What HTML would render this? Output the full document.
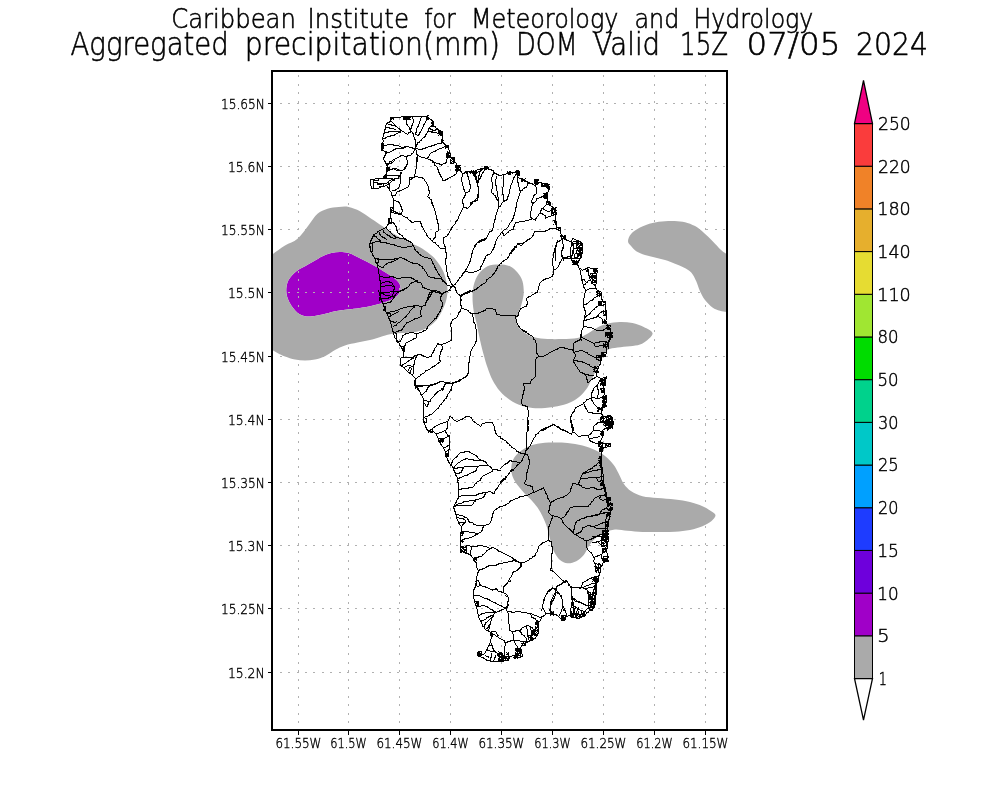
<!DOCTYPE html>
<html lang="en"><head><meta charset="utf-8"><title>Aggregated precipitation(mm) DOM</title>
<style>
html,body{margin:0;padding:0;background:#fff;}
body{width:1000px;height:800px;overflow:hidden;}
svg{display:block;}
text{font-family:"DejaVu Sans","Liberation Sans",sans-serif;font-weight:200;fill:#000;stroke:#000;}
.lon{font-size:14.7px;stroke-width:0.4px;}
.lat{font-size:14.7px;stroke-width:0.4px;}
.cb{font-size:17.2px;stroke-width:0.45px;}
.t1{font-size:27.4px;stroke-width:0.6px;}
.t2{font-size:32.2px;stroke-width:0.6px;}
</style></head><body>
<svg width="1000" height="800" viewBox="0 0 1000 800">
<rect width="1000" height="800" fill="#fff"/>

<defs><clipPath id="fr"><rect x="272" y="71" width="455" height="659"/></clipPath></defs>
<g clip-path="url(#fr)">
<path d="M286.25 290C286.3 287.7 286.7 284.8 287.5 282.5C288.3 280.2 289.6 278.2 291.25 276.25C292.9 274.2 295.2 272.2 297.5 270.5C299.8 268.8 302.3 267.8 305 266.25C307.7 264.7 310.8 262.9 313.75 261.25C316.7 259.6 319.6 257.6 322.5 256.25C325.4 254.9 328.3 253.7 331.25 253C334.2 252.3 337.1 252.0 340 252C342.9 252.0 345.8 252.2 348.75 253C351.7 253.8 354.4 255.5 357.5 257C360.6 258.5 364.2 260.2 367.5 262C370.8 263.8 374.2 265.5 377.5 267.5C380.8 269.5 384.6 271.9 387.5 273.75C390.4 275.6 393.0 277.1 395 278.75C397.0 280.4 398.6 282.1 399.5 283.75C400.4 285.4 400.6 287.1 400.5 288.75C400.4 290.4 399.7 292.3 398.75 293.75C397.8 295.2 396.7 296.3 395 297.5C393.3 298.7 391.2 299.7 388.75 300.75C386.2 301.8 383.1 302.8 380 303.75C376.9 304.7 373.3 305.5 370 306.25C366.7 307.0 363.8 307.5 360 308C356.2 308.5 351.7 309.0 347.5 309.5C343.3 310.0 339.2 310.4 335 311.25C330.8 312.1 326.2 313.7 322.5 314.5C318.8 315.3 315.4 316.0 312.5 316.25C309.6 316.5 307.3 316.7 305 316.25C302.7 315.8 300.6 315.0 298.75 313.75C296.9 312.5 295.3 310.6 293.75 308.75C292.2 306.9 290.6 304.6 289.5 302.5C288.4 300.4 287.5 298.3 287 296.25C286.5 294.2 286.2 292.3 286.25 290Z" fill="#a000c8"/>
<path d="M298.5 75V730M348.5 75V730M399.5 75V730M450.5 75V730M501.5 75V730M552.5 75V730M603.5 75V730M654.5 75V730M705.5 75V730" fill="none" stroke="#b0b0b0" stroke-width="1" stroke-dasharray="2 6.5" shape-rendering="crispEdges"/>
<path d="M280 103.5H727M280 166.5H727M280 229.5H727M280 292.5H727M280 356.5H727M280 419.5H727M280 482.5H727M280 545.5H727M280 608.5H727M280 672.5H727" fill="none" stroke="#b0b0b0" stroke-width="1" stroke-dasharray="2 6.36" shape-rendering="crispEdges"/>
<path d="M245 305C245.0 295.4 245.0 279.4 247.5 272.5C250.0 265.6 256.0 266.7 260 263.75C264.0 260.8 267.3 258.0 271.5 255C275.7 252.0 280.7 248.2 285 245.5C289.3 242.8 293.5 242.2 297.5 238.75C301.5 235.3 305.4 229.2 308.75 225C312.1 220.8 314.4 216.5 317.5 213.75C320.6 211.0 324.0 209.9 327.5 208.75C331.0 207.6 335.2 207.3 338.75 207C342.3 206.7 345.2 206.3 348.75 207C352.3 207.7 356.2 209.3 360 211.25C363.8 213.2 367.5 216.2 371.25 218.75C375.0 221.2 379.0 223.9 382.5 226.25C386.0 228.6 389.2 230.9 392.5 233C395.8 235.1 399.2 237.0 402.5 238.75C405.8 240.5 409.2 242.1 412.5 243.75C415.8 245.4 419.2 246.7 422.5 248.75C425.8 250.8 429.8 253.8 432.5 256.25C435.2 258.8 436.9 261.0 438.75 263.75C440.6 266.5 442.5 269.6 443.75 272.5C445.0 275.4 445.6 278.3 446.25 281.25C446.9 284.2 447.5 286.9 447.5 290C447.5 293.1 447.1 296.7 446.25 300C445.4 303.3 444.0 306.9 442.5 310C441.0 313.1 439.4 316.2 437.5 318.75C435.6 321.2 433.8 323.1 431.25 325C428.8 326.9 425.6 328.8 422.5 330C419.4 331.2 415.8 332.0 412.5 332.5C409.2 333.0 405.8 332.8 402.5 333C399.2 333.2 395.8 333.2 392.5 333.75C389.2 334.3 386.2 335.2 382.5 336.25C378.8 337.3 374.2 339.0 370 340C365.8 341.0 361.7 341.6 357.5 342.5C353.3 343.4 348.8 344.2 345 345.5C341.2 346.8 338.3 348.2 335 350C331.7 351.8 328.3 354.7 325 356.25C321.7 357.8 318.3 358.8 315 359.5C311.7 360.2 308.3 360.5 305 360.5C301.7 360.5 298.3 360.2 295 359.5C291.7 358.8 287.9 357.6 285 356.5C282.1 355.4 279.8 354.2 277.5 353C275.2 351.8 274.4 351.5 271.5 349.5C268.6 347.5 264.0 344.5 260 341.25C256.0 338.0 250.0 336.0 247.5 330C245.0 324.0 245.0 314.6 245 305ZM286.25 290C286.3 287.7 286.7 284.8 287.5 282.5C288.3 280.2 289.6 278.2 291.25 276.25C292.9 274.2 295.2 272.2 297.5 270.5C299.8 268.8 302.3 267.8 305 266.25C307.7 264.7 310.8 262.9 313.75 261.25C316.7 259.6 319.6 257.6 322.5 256.25C325.4 254.9 328.3 253.7 331.25 253C334.2 252.3 337.1 252.0 340 252C342.9 252.0 345.8 252.2 348.75 253C351.7 253.8 354.4 255.5 357.5 257C360.6 258.5 364.2 260.2 367.5 262C370.8 263.8 374.2 265.5 377.5 267.5C380.8 269.5 384.6 271.9 387.5 273.75C390.4 275.6 393.0 277.1 395 278.75C397.0 280.4 398.6 282.1 399.5 283.75C400.4 285.4 400.6 287.1 400.5 288.75C400.4 290.4 399.7 292.3 398.75 293.75C397.8 295.2 396.7 296.3 395 297.5C393.3 298.7 391.2 299.7 388.75 300.75C386.2 301.8 383.1 302.8 380 303.75C376.9 304.7 373.3 305.5 370 306.25C366.7 307.0 363.8 307.5 360 308C356.2 308.5 351.7 309.0 347.5 309.5C343.3 310.0 339.2 310.4 335 311.25C330.8 312.1 326.2 313.7 322.5 314.5C318.8 315.3 315.4 316.0 312.5 316.25C309.6 316.5 307.3 316.7 305 316.25C302.7 315.8 300.6 315.0 298.75 313.75C296.9 312.5 295.3 310.6 293.75 308.75C292.2 306.9 290.6 304.6 289.5 302.5C288.4 300.4 287.5 298.3 287 296.25C286.5 294.2 286.2 292.3 286.25 290Z" fill="#aaaaaa" fill-rule="evenodd"/>
<path d="M628 241.25C628.0 239.2 629.2 236.0 631.25 233.75C633.2 231.5 636.5 229.3 640 227.5C643.5 225.7 648.3 224.0 652.5 223C656.7 222.0 660.8 221.5 665 221.25C669.2 221.0 673.8 221.0 677.5 221.25C681.2 221.5 684.2 222.0 687.5 223C690.8 224.0 694.4 225.5 697.5 227.5C700.6 229.5 703.3 232.3 706.25 235C709.2 237.7 712.3 241.0 715 243.75C717.7 246.5 720.3 249.5 722.5 251.25C724.7 253.0 725.5 253.2 728 254.5C730.5 255.8 733.8 254.5 737.5 258.75C741.2 263.0 749.6 271.0 750 280C750.4 289.0 743.7 307.2 740 312.5C736.3 317.8 731.3 312.3 728 312C724.7 311.7 722.6 311.5 720 310.75C717.4 310.0 715.0 309.3 712.5 307.5C710.0 305.7 707.1 302.7 705 300C702.9 297.3 701.5 294.4 700 291.25C698.5 288.1 697.7 284.4 696.25 281.25C694.8 278.1 693.3 274.8 691.25 272.5C689.2 270.2 686.5 269.0 683.75 267.5C681.0 266.0 678.1 265.0 675 263.75C671.9 262.5 668.3 261.0 665 260C661.7 259.0 658.3 258.3 655 257.5C651.7 256.7 648.1 256.0 645 255C641.9 254.0 638.5 252.7 636.25 251.25C634.0 249.8 632.6 247.9 631.25 246.25C629.9 244.6 628.0 243.3 628 241.25Z" fill="#aaaaaa"/>
<path d="M472.5 297.5C472.5 293.1 472.7 289.0 473.75 285C474.8 281.0 476.5 276.9 478.75 273.75C481.0 270.6 484.2 267.8 487.5 266.25C490.8 264.7 495.0 264.5 498.75 264.5C502.5 264.5 506.9 264.9 510 266.25C513.1 267.6 515.4 270.0 517.5 272.5C519.6 275.0 521.5 277.9 522.5 281.25C523.5 284.6 523.8 289.0 523.75 292.5C523.7 296.0 522.8 299.2 522 302.5C521.2 305.8 519.7 309.6 518.75 312.5C517.8 315.4 516.2 317.5 516.25 320C516.2 322.5 517.1 325.2 518.75 327.5C520.4 329.8 523.5 332.1 526.25 333.75C529.0 335.4 531.5 336.6 535 337.5C538.5 338.4 542.9 338.8 547.5 339C552.1 339.2 557.5 339.2 562.5 339C567.5 338.8 573.3 338.9 577.5 338C581.7 337.1 584.2 335.5 587.5 333.75C590.8 332.0 594.2 329.2 597.5 327.5C600.8 325.8 603.8 324.7 607.5 323.75C611.2 322.8 615.8 322.1 620 322C624.2 321.9 628.5 322.2 632.5 323C636.5 323.8 640.4 325.3 643.75 327C647.1 328.7 651.9 330.8 652.5 333C653.1 335.2 649.6 338.1 647.5 340C645.4 341.9 642.9 343.5 640 344.5C637.1 345.5 633.8 345.8 630 346.25C626.2 346.8 621.2 346.9 617.5 347.5C613.8 348.1 610.0 348.3 607.5 350C605.0 351.7 604.2 354.6 602.5 357.5C600.8 360.4 599.2 364.2 597.5 367.5C595.8 370.8 594.2 374.2 592.5 377.5C590.8 380.8 589.6 384.4 587.5 387.5C585.4 390.6 582.9 393.8 580 396.25C577.1 398.8 573.8 400.8 570 402.5C566.2 404.2 561.7 405.3 557.5 406.25C553.3 407.2 549.2 407.7 545 408C540.8 408.3 536.5 408.4 532.5 408C528.5 407.6 525.0 406.8 521.25 405.5C517.5 404.2 513.5 402.4 510 400C506.5 397.6 502.9 394.6 500 391.25C497.1 387.9 494.6 384.0 492.5 380C490.4 376.0 489.0 371.7 487.5 367.5C486.0 363.3 485.0 359.6 483.75 355C482.5 350.4 481.1 345.0 480 340C478.9 335.0 478.0 329.8 477 325C476.0 320.2 474.5 315.8 473.75 311.25C473.0 306.7 472.5 301.9 472.5 297.5Z" fill="#aaaaaa"/>
<path d="M511.25 470C511.2 467.3 511.5 464.0 512.5 461.25C513.5 458.5 515.2 456.0 517.5 453.75C519.8 451.5 522.9 449.2 526.25 447.5C529.6 445.8 533.1 444.6 537.5 443.75C541.9 442.9 547.5 442.6 552.5 442.5C557.5 442.4 562.5 442.5 567.5 443C572.5 443.5 577.9 444.3 582.5 445.5C587.1 446.7 591.0 448.1 595 450C599.0 451.9 603.1 454.5 606.25 457C609.4 459.5 611.7 462.2 613.75 465C615.8 467.8 617.1 470.6 618.75 473.75C620.4 476.9 621.7 480.8 623.75 483.75C625.8 486.7 628.1 489.2 631.25 491.25C634.4 493.3 638.1 495.1 642.5 496.25C646.9 497.4 652.1 497.5 657.5 498C662.9 498.5 669.6 498.8 675 499.5C680.4 500.2 685.4 500.9 690 502C694.6 503.1 699.0 504.7 702.5 506.25C706.0 507.8 709.1 509.7 711.25 511.25C713.4 512.8 715.5 513.8 715.5 515.5C715.5 517.2 713.4 519.5 711.25 521.25C709.1 523.0 706.0 524.8 702.5 526.25C699.0 527.7 694.6 529.1 690 530C685.4 530.9 680.4 531.4 675 531.75C669.6 532.1 662.9 532.0 657.5 532C652.1 532.0 647.5 532.2 642.5 532C637.5 531.8 632.1 531.2 627.5 530.75C622.9 530.3 618.8 529.2 615 529.5C611.2 529.8 608.3 531.0 605 532.5C601.7 534.0 597.7 536.5 595 538.75C592.3 541.0 590.6 543.5 588.75 546.25C586.9 549.0 585.8 552.5 583.75 555C581.7 557.5 579.0 559.9 576.25 561.25C573.5 562.6 570.2 563.5 567.5 563.25C564.8 563.0 562.2 561.8 560 560C557.8 558.2 556.0 555.2 554.5 552.5C553.0 549.8 552.2 546.9 551.25 543.75C550.3 540.6 549.6 536.9 548.75 533.75C547.9 530.6 547.3 527.9 546.25 525C545.2 522.1 544.0 519.2 542.5 516.25C541.0 513.3 539.4 510.2 537.5 507.5C535.6 504.8 533.5 502.5 531.25 500C529.0 497.5 526.0 495.0 523.75 492.5C521.5 490.0 519.3 487.5 517.5 485C515.7 482.5 514.0 480.0 513 477.5C512.0 475.0 511.3 472.7 511.25 470Z" fill="#aaaaaa"/>
<path d="M369 243v5h1v-5zM370 179v7h1v-7zM370 240v4h1v-4zM370 246v6h1v-6zM371 186v3h1v-3zM371 238v3h1v-3zM372 236v3h1v-3zM372 242v10h1v-10zM372 253v3h1v-3zM373 179v10h1v-10zM373 234v3h1v-3zM374 234v3h1v-3zM375 258v5h1v-5zM377 182v3h1v-3zM377 262v6h1v-6zM378 178v3h1v-3zM378 258v5h1v-5zM378 268v6h1v-6zM379 232v3h1v-3zM379 239v3h1v-3zM379 274v7h1v-7zM379 292v4h1v-4zM379 297v4h1v-4zM380 240v3h1v-3zM380 280v20h1v-20zM381 143v8h1v-8zM381 298v4h1v-4zM382 137v3h1v-3zM382 142v9h1v-9zM382 301v3h1v-3zM383 133v4h1v-4zM383 143v6h1v-6zM383 157v3h1v-3zM383 176v3h1v-3zM383 183v4h1v-4zM383 230v3h1v-3zM383 292v3h1v-3zM383 303v4h1v-4zM384 129v5h1v-5zM384 155v3h1v-3zM384 175v4h1v-4zM384 306v5h1v-5zM385 125v5h1v-5zM385 151v5h1v-5zM385 161v3h1v-3zM385 174v5h1v-5zM385 306v6h1v-6zM386 151v3h1v-3zM386 163v3h1v-3zM386 167v12h1v-12zM386 226v3h1v-3zM387 163v9h1v-9zM387 312v4h1v-4zM388 167v4h1v-4zM388 181v4h1v-4zM388 218v7h1v-7zM388 316v3h1v-3zM389 161v3h1v-3zM389 167v4h1v-4zM389 183v8h1v-8zM389 218v6h1v-6zM389 318v3h1v-3zM390 117v5h1v-5zM390 207v12h1v-12zM390 313v4h1v-4zM390 320v4h1v-4zM391 117v3h1v-3zM391 161v3h1v-3zM391 192v4h1v-4zM391 209v4h1v-4zM391 218v6h1v-6zM391 324v4h1v-4zM392 178v3h1v-3zM392 195v3h1v-3zM392 294v3h1v-3zM392 328v4h1v-4zM393 117v3h1v-3zM393 198v15h1v-15zM393 289v5h1v-5zM393 296v3h1v-3zM393 331v4h1v-4zM394 178v3h1v-3zM394 258v3h1v-3zM394 286v4h1v-4zM394 295v3h1v-3zM394 335v3h1v-3zM395 211v3h1v-3zM395 236v3h1v-3zM396 226v5h1v-5zM396 333v9h1v-9zM397 230v3h1v-3zM397 340v3h1v-3zM398 175v4h1v-4zM399 184v3h1v-3zM399 343v3h1v-3zM400 129v4h1v-4zM400 172v12h1v-12zM400 204v3h1v-3zM400 358v8h1v-8zM401 206v4h1v-4zM401 212v3h1v-3zM401 346v3h1v-3zM402 209v3h1v-3zM402 335v3h1v-3zM402 348v3h1v-3zM402 364v3h1v-3zM403 116v4h1v-4zM403 346v12h1v-12zM404 116v4h1v-4zM404 167v3h1v-3zM404 345v7h1v-7zM405 116v4h1v-4zM405 166v3h1v-3zM405 343v3h1v-3zM406 116v9h1v-9zM406 156v4h1v-4zM406 164v3h1v-3zM407 116v4h1v-4zM407 160v5h1v-5zM408 116v4h1v-4zM409 116v4h1v-4zM409 127v3h1v-3zM409 177v8h1v-8zM410 128v5h1v-5zM410 370v4h1v-4zM411 125v4h1v-4zM411 177v3h1v-3zM411 357v3h1v-3zM412 116v3h1v-3zM412 123v3h1v-3zM412 243v3h1v-3zM413 119v4h1v-4zM413 133v4h1v-4zM413 305v3h1v-3zM413 356v3h1v-3zM413 364v10h1v-10zM414 137v3h1v-3zM414 148v3h1v-3zM414 174v4h1v-4zM414 247v3h1v-3zM414 305v3h1v-3zM414 360v5h1v-5zM414 380v6h1v-6zM415 132v3h1v-3zM415 139v11h1v-11zM415 169v5h1v-5zM415 357v3h1v-3zM415 378v11h1v-11zM416 128v5h1v-5zM416 144v3h1v-3zM416 150v5h1v-5zM416 157v12h1v-12zM416 333v5h1v-5zM416 355v3h1v-3zM416 385v3h1v-3zM417 142v3h1v-3zM417 154v8h1v-8zM417 280v3h1v-3zM417 385v5h1v-5zM418 124v3h1v-3zM418 388v3h1v-3zM419 121v3h1v-3zM419 132v3h1v-3zM420 118v3h1v-3zM420 221v3h1v-3zM420 310v5h1v-5zM420 392v3h1v-3zM421 223v4h1v-4zM421 306v4h1v-4zM422 266v3h1v-3zM422 285v3h1v-3zM423 124v3h1v-3zM423 398v25h1v-25zM424 421v4h1v-4zM425 134v3h1v-3zM425 302v4h1v-4zM425 425v3h1v-3zM426 116v5h1v-5zM426 233v3h1v-3zM426 300v3h1v-3zM426 389v3h1v-3zM426 418v5h1v-5zM426 427v3h1v-3zM427 115v5h1v-5zM427 297v4h1v-4zM427 326v3h1v-3zM427 387v3h1v-3zM427 404v3h1v-3zM428 117v3h1v-3zM428 128v4h1v-4zM428 186v5h1v-5zM428 294v6h1v-6zM428 385v3h1v-3zM428 401v4h1v-4zM428 430v3h1v-3zM429 190v4h1v-4zM429 292v3h1v-3zM430 294v3h1v-3zM430 399v3h1v-3zM430 429v4h1v-4zM431 199v5h1v-5zM431 290v5h1v-5zM431 354v3h1v-3zM432 120v7h1v-7zM432 129v4h1v-4zM432 160v3h1v-3zM432 202v4h1v-4zM432 261v3h1v-3zM432 290v3h1v-3zM432 428v5h1v-5zM433 121v6h1v-6zM433 205v3h1v-3zM433 350v3h1v-3zM434 162v4h1v-4zM434 208v3h1v-3zM434 265v3h1v-3zM434 348v3h1v-3zM435 211v4h1v-4zM435 232v6h1v-6zM435 267v3h1v-3zM435 290v3h1v-3zM436 215v5h1v-5zM436 316v3h1v-3zM436 433v3h1v-3zM437 167v3h1v-3zM437 219v5h1v-5zM437 314v3h1v-3zM438 129v5h1v-5zM438 169v4h1v-4zM438 223v8h1v-8zM438 438v4h1v-4zM439 130v5h1v-5zM439 172v3h1v-3zM439 291v3h1v-3zM439 355v6h1v-6zM439 440v3h1v-3zM440 130v6h1v-6zM440 174v3h1v-3zM440 296v5h1v-5zM440 309v3h1v-3zM440 351v4h1v-4zM440 438v7h1v-7zM441 131v5h1v-5zM441 139v5h1v-5zM441 277v3h1v-3zM441 293v4h1v-4zM441 306v3h1v-3zM441 349v3h1v-3zM441 438v4h1v-4zM442 131v12h1v-12zM442 178v3h1v-3zM442 279v3h1v-3zM442 302v5h1v-5zM442 346v4h1v-4zM442 388v3h1v-3zM442 438v5h1v-5zM443 237v7h1v-7zM443 386v4h1v-4zM443 438v4h1v-4zM444 244v3h1v-3zM444 384v3h1v-3zM445 144v5h1v-5zM445 246v7h1v-7zM445 258v7h1v-7zM445 382v3h1v-3zM445 430v3h1v-3zM445 451v6h1v-6zM446 145v3h1v-3zM446 153v5h1v-5zM446 159v4h1v-4zM446 252v7h1v-7zM446 265v7h1v-7zM446 396v3h1v-3zM446 453v5h1v-5zM447 145v3h1v-3zM447 151v8h1v-8zM447 272v5h1v-5zM447 394v3h1v-3zM447 421v8h1v-8zM447 434v3h1v-3zM447 453v4h1v-4zM447 458v3h1v-3zM448 145v5h1v-5zM448 152v6h1v-6zM448 276v3h1v-3zM448 449v8h1v-8zM448 460v3h1v-3zM449 150v4h1v-4zM449 155v3h1v-3zM449 278v3h1v-3zM449 416v3h1v-3zM449 435v15h1v-15zM450 153v5h1v-5zM450 159v5h1v-5zM450 286v3h1v-3zM450 323v4h1v-4zM451 227v3h1v-3zM451 321v3h1v-3zM451 327v14h1v-14zM451 386v5h1v-5zM451 462v4h1v-4zM452 157v3h1v-3zM452 284v3h1v-3zM452 382v4h1v-4zM452 460v3h1v-3zM453 157v7h1v-7zM453 467v4h1v-4zM453 506v3h1v-3zM454 157v6h1v-6zM454 466v3h1v-3zM454 470v3h1v-3zM454 504v3h1v-3zM454 508v4h1v-4zM455 165v3h1v-3zM455 221v3h1v-3zM455 287v4h1v-4zM455 472v4h1v-4zM455 511v4h1v-4zM456 163v11h1v-11zM456 290v3h1v-3zM456 500v3h1v-3zM456 514v5h1v-5zM457 165v7h1v-7zM457 477v6h1v-6zM458 165v6h1v-6zM458 216v3h1v-3zM458 312v3h1v-3zM458 482v17h1v-17zM458 521v3h1v-3zM459 165v3h1v-3zM459 379v3h1v-3zM459 522v3h1v-3zM460 167v5h1v-5zM460 295v11h1v-11zM460 309v3h1v-3zM460 532v21h1v-21zM461 177v5h1v-5zM461 294v3h1v-3zM461 305v4h1v-4zM461 470v3h1v-3zM461 526v8h1v-8zM461 549v4h1v-4zM462 173v4h1v-4zM462 182v4h1v-4zM462 199v5h1v-5zM462 273v3h1v-3zM462 467v4h1v-4zM462 531v5h1v-5zM462 539v4h1v-4zM462 546v3h1v-3zM463 186v4h1v-4zM463 203v5h1v-5zM463 522v3h1v-3zM463 531v3h1v-3zM463 546v4h1v-4zM464 189v3h1v-3zM464 195v3h1v-3zM464 549v4h1v-4zM465 192v4h1v-4zM465 269v3h1v-3zM465 520v3h1v-3zM466 171v3h1v-3zM466 545v9h1v-9zM467 171v6h1v-6zM467 291v3h1v-3zM467 373v3h1v-3zM468 176v4h1v-4zM468 362v12h1v-12zM468 519v3h1v-3zM469 180v5h1v-5zM469 189v3h1v-3zM469 261v3h1v-3zM469 290v3h1v-3zM469 356v7h1v-7zM470 171v3h1v-3zM470 184v5h1v-5zM470 202v4h1v-4zM470 258v4h1v-4zM470 351v5h1v-5zM470 550v6h1v-6zM471 170v3h1v-3zM471 202v3h1v-3zM471 253v5h1v-5zM471 546v4h1v-4zM472 171v3h1v-3zM472 201v3h1v-3zM472 250v4h1v-4zM472 313v4h1v-4zM473 170v6h1v-6zM473 317v6h1v-6zM473 558v3h1v-3zM473 589v10h1v-10zM474 171v6h1v-6zM474 245v3h1v-3zM474 557v5h1v-5zM474 587v3h1v-3zM474 599v4h1v-4zM475 170v10h1v-10zM475 199v3h1v-3zM475 244v3h1v-3zM475 324v5h1v-5zM475 341v3h1v-3zM475 499v3h1v-3zM475 533v3h1v-3zM475 557v3h1v-3zM475 583v5h1v-5zM475 603v3h1v-3zM476 170v4h1v-4zM476 176v7h1v-7zM476 329v13h1v-13zM476 468v3h1v-3zM476 557v4h1v-4zM476 562v6h1v-6zM476 576v10h1v-10zM476 601v3h1v-3zM476 605v4h1v-4zM477 180v7h1v-7zM477 194v7h1v-7zM477 572v4h1v-4zM477 601v6h1v-6zM477 609v5h1v-5zM477 652v4h1v-4zM478 175v8h1v-8zM478 186v12h1v-12zM478 570v3h1v-3zM478 601v6h1v-6zM478 614v4h1v-4zM478 651v6h1v-6zM479 171v5h1v-5zM479 240v3h1v-3zM479 582v4h1v-4zM479 651v6h1v-6zM480 168v4h1v-4zM480 176v3h1v-3zM480 266v4h1v-4zM480 478v3h1v-3zM480 653v4h1v-4zM481 168v3h1v-3zM481 174v3h1v-3zM481 239v3h1v-3zM481 620v4h1v-4zM481 651v5h1v-5zM482 527v4h1v-4zM482 624v3h1v-3zM483 260v3h1v-3zM483 525v3h1v-3zM484 166v5h1v-5zM484 238v3h1v-3zM484 258v3h1v-3zM484 494v3h1v-3zM484 624v5h1v-5zM485 166v4h1v-4zM485 256v3h1v-3zM485 492v3h1v-3zM485 622v3h1v-3zM486 166v4h1v-4zM486 279v3h1v-3zM487 166v3h1v-3zM487 647v4h1v-4zM488 167v3h1v-3zM488 625v3h1v-3zM488 629v3h1v-3zM489 624v5h1v-5zM489 643v3h1v-3zM490 621v4h1v-4zM490 632v4h1v-4zM490 639v4h1v-4zM490 657v5h1v-5zM491 177v5h1v-5zM491 189v4h1v-4zM491 517v4h1v-4zM491 617v4h1v-4zM491 631v8h1v-8zM491 643v3h1v-3zM491 653v5h1v-5zM492 174v3h1v-3zM492 182v7h1v-7zM492 228v3h1v-3zM492 469v3h1v-3zM492 513v5h1v-5zM492 615v3h1v-3zM492 633v4h1v-4zM492 645v4h1v-4zM493 170v5h1v-5zM493 223v5h1v-5zM493 247v3h1v-3zM493 511v3h1v-3zM493 610v3h1v-3zM493 614v3h1v-3zM493 648v4h1v-4zM494 219v4h1v-4zM494 244v4h1v-4zM494 426v5h1v-5zM494 491v3h1v-3zM494 611v3h1v-3zM494 657v3h1v-3zM495 179v7h1v-7zM495 195v3h1v-3zM495 215v5h1v-5zM495 241v4h1v-4zM495 309v3h1v-3zM495 430v4h1v-4zM495 655v3h1v-3zM496 176v3h1v-3zM496 185v6h1v-6zM496 197v3h1v-3zM496 212v3h1v-3zM496 268v3h1v-3zM496 312v3h1v-3zM497 191v6h1v-6zM497 209v3h1v-3zM497 266v3h1v-3zM497 634v3h1v-3zM497 653v3h1v-3zM498 197v12h1v-12zM498 653v4h1v-4zM498 658v4h1v-4zM499 652v10h1v-10zM500 436v3h1v-3zM500 481v3h1v-3zM500 652v3h1v-3zM500 659v3h1v-3zM501 480v3h1v-3zM501 652v10h1v-10zM502 187v8h1v-8zM502 231v3h1v-3zM502 479v3h1v-3zM502 653v9h1v-9zM503 174v13h1v-13zM503 194v8h1v-8zM503 233v3h1v-3zM503 478v3h1v-3zM503 586v7h1v-7zM503 655v7h1v-7zM504 640v3h1v-3zM504 646v13h1v-13zM505 476v4h1v-4zM505 642v4h1v-4zM505 656v5h1v-5zM506 606v5h1v-5zM506 656v3h1v-3zM507 171v3h1v-3zM507 196v4h1v-4zM507 601v7h1v-7zM507 658v3h1v-3zM508 172v3h1v-3zM508 194v3h1v-3zM508 597v5h1v-5zM508 613v11h1v-11zM508 652v9h1v-9zM509 171v4h1v-4zM509 189v5h1v-5zM509 253v3h1v-3zM509 624v7h1v-7zM509 656v3h1v-3zM510 171v4h1v-4zM510 185v4h1v-4zM511 250v4h1v-4zM511 469v3h1v-3zM512 180v3h1v-3zM512 218v3h1v-3zM512 249v3h1v-3zM512 572v3h1v-3zM512 631v3h1v-3zM513 177v3h1v-3zM513 215v4h1v-4zM513 226v4h1v-4zM513 248v3h1v-3zM513 558v3h1v-3zM513 634v7h1v-7zM514 212v4h1v-4zM514 224v3h1v-3zM514 246v4h1v-4zM514 640v3h1v-3zM514 655v4h1v-4zM515 207v5h1v-5zM515 315v4h1v-4zM515 559v3h1v-3zM515 648v3h1v-3zM515 652v7h1v-7zM516 170v5h1v-5zM516 202v6h1v-6zM516 245v3h1v-3zM516 319v4h1v-4zM516 648v4h1v-4zM516 653v5h1v-5zM517 170v13h1v-13zM517 199v3h1v-3zM517 646v13h1v-13zM518 170v6h1v-6zM518 182v5h1v-5zM518 196v3h1v-3zM518 312v4h1v-4zM518 648v4h1v-4zM518 653v3h1v-3zM519 171v5h1v-5zM519 187v4h1v-4zM519 193v3h1v-3zM519 648v6h1v-6zM520 190v3h1v-3zM520 562v6h1v-6zM520 629v4h1v-4zM520 647v11h1v-11zM521 178v4h1v-4zM521 399v5h1v-5zM521 562v5h1v-5zM521 632v3h1v-3zM521 649v5h1v-5zM522 178v4h1v-4zM522 394v5h1v-5zM522 458v3h1v-3zM522 643v3h1v-3zM522 654v3h1v-3zM523 383v3h1v-3zM523 390v5h1v-5zM523 641v3h1v-3zM524 179v3h1v-3zM524 386v5h1v-5zM524 453v3h1v-3zM524 643v3h1v-3zM525 450v5h1v-5zM525 641v5h1v-5zM526 298v3h1v-3zM526 304v3h1v-3zM526 432v19h1v-19zM526 472v8h1v-8zM526 625v4h1v-4zM526 638v5h1v-5zM527 181v5h1v-5zM527 301v4h1v-4zM527 406v4h1v-4zM527 417v15h1v-15zM527 469v4h1v-4zM527 629v8h1v-8zM528 410v7h1v-7zM528 420v5h1v-5zM528 426v5h1v-5zM528 456v4h1v-4zM528 465v4h1v-4zM528 635v5h1v-5zM529 459v6h1v-6zM530 211v7h1v-7zM530 381v3h1v-3zM530 626v4h1v-4zM530 635v6h1v-6zM531 200v3h1v-3zM531 206v5h1v-5zM531 217v3h1v-3zM531 615v3h1v-3zM531 630v11h1v-11zM532 202v4h1v-4zM532 486v4h1v-4zM532 630v6h1v-6zM532 637v4h1v-4zM533 195v3h1v-3zM533 233v3h1v-3zM533 337v3h1v-3zM533 490v3h1v-3zM533 629v6h1v-6zM534 179v5h1v-5zM534 629v7h1v-7zM535 179v8h1v-8zM535 218v3h1v-3zM535 340v3h1v-3zM535 359v18h1v-18zM535 434v3h1v-3zM535 553v3h1v-3zM535 622v3h1v-3zM535 626v6h1v-6zM535 633v3h1v-3zM536 179v6h1v-6zM536 187v7h1v-7zM536 198v3h1v-3zM536 343v11h1v-11zM536 620v5h1v-5zM536 634v3h1v-3zM537 179v6h1v-6zM537 290v3h1v-3zM537 549v3h1v-3zM537 620v8h1v-8zM537 629v3h1v-3zM537 633v3h1v-3zM538 286v4h1v-4zM538 546v3h1v-3zM538 621v13h1v-13zM539 283v3h1v-3zM540 210v4h1v-4zM541 182v5h1v-5zM541 208v3h1v-3zM541 616v3h1v-3zM542 183v4h1v-4zM542 604v5h1v-5zM543 195v3h1v-3zM543 207v3h1v-3zM543 428v3h1v-3zM543 599v5h1v-5zM544 183v4h1v-4zM544 193v6h1v-6zM544 597v4h1v-4zM545 183v4h1v-4zM545 193v6h1v-6zM545 215v4h1v-4zM545 427v3h1v-3zM545 491v3h1v-3zM545 612v3h1v-3zM546 183v5h1v-5zM546 192v7h1v-7zM546 201v4h1v-4zM547 183v6h1v-6zM547 192v11h1v-11zM547 495v4h1v-4zM547 591v3h1v-3zM548 184v8h1v-8zM548 201v4h1v-4zM548 510v3h1v-3zM548 526v15h1v-15zM549 186v4h1v-4zM549 201v5h1v-5zM549 505v6h1v-6zM549 524v3h1v-3zM549 589v3h1v-3zM550 202v4h1v-4zM550 502v4h1v-4zM550 521v3h1v-3zM550 568v3h1v-3zM550 601v15h1v-15zM551 208v8h1v-8zM551 518v3h1v-3zM551 541v6h1v-6zM551 553v16h1v-16zM551 599v6h1v-6zM551 611v4h1v-4zM552 206v8h1v-8zM552 258v8h1v-8zM552 274v3h1v-3zM552 515v4h1v-4zM552 546v8h1v-8zM552 612v3h1v-3zM553 207v3h1v-3zM553 212v4h1v-4zM553 252v6h1v-6zM553 266v9h1v-9zM553 598v3h1v-3zM553 611v5h1v-5zM554 208v5h1v-5zM554 220v3h1v-3zM554 248v5h1v-5zM554 596v3h1v-3zM555 207v18h1v-18zM555 245v16h1v-16zM555 588v8h1v-8zM556 212v3h1v-3zM556 221v9h1v-9zM556 242v5h1v-5zM556 586v5h1v-5zM557 240v3h1v-3zM557 591v3h1v-3zM558 227v4h1v-4zM559 262v3h1v-3zM560 227v7h1v-7zM561 234v6h1v-6zM561 250v7h1v-7zM561 595v4h1v-4zM561 609v3h1v-3zM561 615v6h1v-6zM562 238v6h1v-6zM562 247v4h1v-4zM562 255v4h1v-4zM562 520v3h1v-3zM562 599v10h1v-10zM562 615v6h1v-6zM563 236v3h1v-3zM563 244v5h1v-5zM563 257v4h1v-4zM563 580v3h1v-3zM563 615v6h1v-6zM564 235v5h1v-5zM564 608v3h1v-3zM564 617v4h1v-4zM565 235v5h1v-5zM565 580v3h1v-3zM565 610v3h1v-3zM565 615v5h1v-5zM566 512v3h1v-3zM566 613v4h1v-4zM567 256v3h1v-3zM568 583v3h1v-3zM570 247v12h1v-12zM570 416v7h1v-7zM570 488v4h1v-4zM570 608v9h1v-9zM571 240v7h1v-7zM571 255v6h1v-6zM571 414v3h1v-3zM571 420v8h1v-8zM571 486v3h1v-3zM571 586v14h1v-14zM571 602v6h1v-6zM571 611v7h1v-7zM572 242v4h1v-4zM572 250v6h1v-6zM572 260v3h1v-3zM572 424v9h1v-9zM572 483v3h1v-3zM572 596v10h1v-10zM572 613v5h1v-5zM573 243v11h1v-11zM573 260v5h1v-5zM573 343v10h1v-10zM573 359v4h1v-4zM573 427v4h1v-4zM573 529v5h1v-5zM573 602v16h1v-16zM574 254v5h1v-5zM574 260v5h1v-5zM574 409v3h1v-3zM574 525v5h1v-5zM574 598v3h1v-3zM574 608v7h1v-7zM575 261v4h1v-4zM575 354v3h1v-3zM575 522v3h1v-3zM575 606v3h1v-3zM575 613v5h1v-5zM576 240v9h1v-9zM576 250v4h1v-4zM576 260v5h1v-5zM576 533v3h1v-3zM576 611v8h1v-8zM577 240v6h1v-6zM577 247v4h1v-4zM577 253v6h1v-6zM577 261v5h1v-5zM577 608v3h1v-3zM577 613v3h1v-3zM578 240v5h1v-5zM578 246v3h1v-3zM578 253v4h1v-4zM578 260v3h1v-3zM578 265v3h1v-3zM578 482v3h1v-3zM578 607v3h1v-3zM578 611v4h1v-4zM579 245v11h1v-11zM579 258v3h1v-3zM579 480v3h1v-3zM579 614v5h1v-5zM580 241v5h1v-5zM580 247v12h1v-12zM580 270v5h1v-5zM580 334v6h1v-6zM580 477v3h1v-3zM580 614v4h1v-4zM581 242v4h1v-4zM581 247v4h1v-4zM581 252v6h1v-6zM581 275v6h1v-6zM581 330v8h1v-8zM581 585v3h1v-3zM581 610v5h1v-5zM582 243v11h1v-11zM582 279v5h1v-5zM582 527v3h1v-3zM582 582v3h1v-3zM582 613v4h1v-4zM583 284v4h1v-4zM583 298v10h1v-10zM583 320v8h1v-8zM583 611v6h1v-6zM584 293v5h1v-5zM584 307v4h1v-4zM584 315v6h1v-6zM584 404v3h1v-3zM584 611v6h1v-6zM585 289v4h1v-4zM585 310v5h1v-5zM585 406v3h1v-3zM585 471v3h1v-3zM586 376v4h1v-4zM586 540v8h1v-8zM587 267v5h1v-5zM587 379v4h1v-4zM587 590v4h1v-4zM588 269v7h1v-7zM588 435v3h1v-3zM588 591v18h1v-18zM589 275v4h1v-4zM589 438v3h1v-3zM589 594v6h1v-6zM589 607v4h1v-4zM590 592v8h1v-8zM590 601v7h1v-7zM591 275v4h1v-4zM591 281v3h1v-3zM591 392v9h1v-9zM591 596v12h1v-12zM592 273v11h1v-11zM592 390v3h1v-3zM592 592v13h1v-13zM592 606v5h1v-5zM593 268v4h1v-4zM593 275v3h1v-3zM593 388v3h1v-3zM593 426v5h1v-5zM593 536v3h1v-3zM593 577v4h1v-4zM593 589v7h1v-7zM593 601v8h1v-8zM594 268v6h1v-6zM594 275v4h1v-4zM594 280v3h1v-3zM594 343v3h1v-3zM594 366v6h1v-6zM594 557v3h1v-3zM594 576v6h1v-6zM594 585v5h1v-5zM594 595v13h1v-13zM595 268v6h1v-6zM595 275v4h1v-4zM595 280v3h1v-3zM595 284v5h1v-5zM595 366v3h1v-3zM595 563v9h1v-9zM595 576v29h1v-29zM596 268v4h1v-4zM596 273v11h1v-11zM596 355v5h1v-5zM596 370v7h1v-7zM596 566v3h1v-3zM596 570v3h1v-3zM596 576v19h1v-19zM597 270v3h1v-3zM597 290v7h1v-7zM597 368v5h1v-5zM597 384v6h1v-6zM597 395v4h1v-4zM597 567v4h1v-4zM597 578v5h1v-5zM598 301v5h1v-5zM598 314v3h1v-3zM598 355v3h1v-3zM598 366v3h1v-3zM598 389v6h1v-6zM598 407v5h1v-5zM598 441v6h1v-6zM598 563v10h1v-10zM598 575v7h1v-7zM599 291v6h1v-6zM599 301v5h1v-5zM599 355v3h1v-3zM599 407v3h1v-3zM599 441v6h1v-6zM599 448v4h1v-4zM599 456v3h1v-3zM599 460v4h1v-4zM599 534v3h1v-3zM599 572v4h1v-4zM600 293v3h1v-3zM600 301v5h1v-5zM600 355v10h1v-10zM600 378v4h1v-4zM600 383v3h1v-3zM600 417v6h1v-6zM600 440v5h1v-5zM600 446v6h1v-6zM600 456v12h1v-12zM600 483v3h1v-3zM600 495v3h1v-3zM600 511v3h1v-3zM600 564v9h1v-9zM601 292v8h1v-8zM601 301v5h1v-5zM601 352v9h1v-9zM601 378v7h1v-7zM601 388v5h1v-5zM601 407v8h1v-8zM601 416v4h1v-4zM601 431v5h1v-5zM601 445v36h1v-36zM601 482v4h1v-4zM601 536v11h1v-11zM601 554v5h1v-5zM602 299v3h1v-3zM602 319v5h1v-5zM602 352v5h1v-5zM602 378v8h1v-8zM602 390v3h1v-3zM602 396v3h1v-3zM602 400v3h1v-3zM602 404v7h1v-7zM602 414v5h1v-5zM602 420v3h1v-3zM602 430v8h1v-8zM602 442v10h1v-10zM602 467v7h1v-7zM602 480v6h1v-6zM602 530v11h1v-11zM602 548v6h1v-6zM602 558v3h1v-3zM602 563v3h1v-3zM603 310v4h1v-4zM603 343v5h1v-5zM603 352v5h1v-5zM603 382v11h1v-11zM603 395v13h1v-13zM603 416v7h1v-7zM603 431v5h1v-5zM603 474v15h1v-15zM603 530v11h1v-11zM603 542v5h1v-5zM603 548v5h1v-5zM603 556v7h1v-7zM604 319v5h1v-5zM604 344v3h1v-3zM604 354v3h1v-3zM604 377v9h1v-9zM604 388v7h1v-7zM604 396v12h1v-12zM604 421v3h1v-3zM604 484v8h1v-8zM604 533v5h1v-5zM604 539v3h1v-3zM604 558v5h1v-5zM605 301v15h1v-15zM605 320v4h1v-4zM605 332v5h1v-5zM605 341v7h1v-7zM605 354v3h1v-3zM605 377v9h1v-9zM605 395v5h1v-5zM605 401v6h1v-6zM605 420v7h1v-7zM605 443v5h1v-5zM605 487v10h1v-10zM605 519v24h1v-24zM605 547v5h1v-5zM605 558v4h1v-4zM606 310v10h1v-10zM606 321v3h1v-3zM606 332v4h1v-4zM606 346v8h1v-8zM606 376v3h1v-3zM606 395v8h1v-8zM606 416v10h1v-10zM606 443v3h1v-3zM606 492v11h1v-11zM606 514v5h1v-5zM606 524v3h1v-3zM606 530v17h1v-17zM606 548v5h1v-5zM606 558v4h1v-4zM607 324v6h1v-6zM607 332v6h1v-6zM607 342v5h1v-5zM607 415v3h1v-3zM607 419v7h1v-7zM607 427v4h1v-4zM607 497v10h1v-10zM607 512v5h1v-5zM607 521v19h1v-19zM607 541v8h1v-8zM607 553v9h1v-9zM608 325v5h1v-5zM608 332v4h1v-4zM608 340v9h1v-9zM608 415v15h1v-15zM608 443v4h1v-4zM608 497v10h1v-10zM608 512v4h1v-4zM608 519v8h1v-8zM608 536v6h1v-6zM609 327v3h1v-3zM609 332v10h1v-10zM609 418v11h1v-11zM609 497v4h1v-4zM609 503v3h1v-3zM609 508v3h1v-3zM609 512v8h1v-8zM610 328v12h1v-12zM610 415v5h1v-5zM610 421v8h1v-8zM610 443v4h1v-4zM610 497v4h1v-4zM610 502v3h1v-3zM610 506v9h1v-9zM611 332v6h1v-6zM611 416v12h1v-12zM611 503v3h1v-3zM611 507v4h1v-4zM612 335v3h1v-3zM612 417v12h1v-12zM612 503v3h1v-3zM612 507v3h1v-3zM613 421v4h1v-4zM428 115h1v1h-1zM401 116h2v1h-2zM410 116h2v1h-2zM413 116h13v1h-13zM392 117h1v1h-1zM394 117h7v1h-7zM410 117h1v1h-1zM421 117h1v1h-1zM392 118h1v1h-1zM429 118h1v1h-1zM410 119h1v1h-1zM430 119h2v1h-2zM431 120h1v1h-1zM389 121h1v1h-1zM391 121h1v1h-1zM425 121h1v1h-1zM387 122h3v1h-3zM392 122h1v1h-1zM425 122h1v1h-1zM431 122h1v1h-1zM386 123h2v1h-2zM393 123h1v1h-1zM424 123h1v1h-1zM431 123h1v1h-1zM386 124h1v1h-1zM388 124h4v1h-4zM394 124h1v1h-1zM407 124h1v1h-1zM424 124h1v1h-1zM391 125h5v1h-5zM407 125h1v1h-1zM431 125h1v1h-1zM395 126h2v1h-2zM408 126h1v1h-1zM417 126h1v1h-1zM430 126h2v1h-2zM434 126h2v1h-2zM386 127h4v1h-4zM397 127h1v1h-1zM417 127h1v1h-1zM422 127h1v1h-1zM429 127h1v1h-1zM435 127h1v1h-1zM389 128h5v1h-5zM398 128h2v1h-2zM422 128h1v1h-1zM429 128h2v1h-2zM436 128h2v1h-2zM394 129h2v1h-2zM399 129h1v1h-1zM421 129h1v1h-1zM430 129h2v1h-2zM435 129h3v1h-3zM401 130h1v1h-1zM421 130h1v1h-1zM433 130h3v1h-3zM388 131h12v1h-12zM402 131h2v1h-2zM411 131h1v1h-1zM420 131h1v1h-1zM427 131h1v1h-1zM429 131h3v1h-3zM385 132h4v1h-4zM398 132h2v1h-2zM404 132h1v1h-1zM408 132h2v1h-2zM412 132h1v1h-1zM420 132h1v1h-1zM427 132h1v1h-1zM431 132h1v1h-1zM433 132h4v1h-4zM396 133h2v1h-2zM405 133h2v1h-2zM408 133h1v1h-1zM412 133h1v1h-1zM426 133h1v1h-1zM437 133h1v1h-1zM394 134h2v1h-2zM407 134h1v1h-1zM416 134h1v1h-1zM418 134h1v1h-1zM426 134h1v1h-1zM390 135h5v1h-5zM417 135h2v1h-2zM438 135h1v1h-1zM387 136h4v1h-4zM424 136h1v1h-1zM385 137h2v1h-2zM423 137h2v1h-2zM383 138h3v1h-3zM422 138h1v1h-1zM421 139h1v1h-1zM383 140h1v1h-1zM420 140h2v1h-2zM443 140h1v1h-1zM383 141h1v1h-1zM419 141h1v1h-1zM418 142h2v1h-2zM443 142h1v1h-1zM437 143h4v1h-4zM443 143h2v1h-2zM387 144h7v1h-7zM434 144h3v1h-3zM444 144h1v1h-1zM384 145h3v1h-3zM393 145h6v1h-6zM431 145h4v1h-4zM399 146h2v1h-2zM404 146h5v1h-5zM428 146h4v1h-4zM444 146h1v1h-1zM401 147h5v1h-5zM409 147h4v1h-4zM425 147h3v1h-3zM442 147h2v1h-2zM395 148h9v1h-9zM412 148h2v1h-2zM416 148h2v1h-2zM422 148h4v1h-4zM439 148h3v1h-3zM393 149h3v1h-3zM418 149h5v1h-5zM437 149h2v1h-2zM383 150h1v1h-1zM392 150h2v1h-2zM435 150h2v1h-2zM384 151h1v1h-1zM390 151h2v1h-2zM413 151h1v1h-1zM433 151h3v1h-3zM387 152h3v1h-3zM413 152h1v1h-1zM431 152h2v1h-2zM411 153h2v1h-2zM430 153h1v1h-1zM411 154h1v1h-1zM429 154h1v1h-1zM400 155h4v1h-4zM407 155h4v1h-4zM418 155h1v1h-1zM429 155h1v1h-1zM399 156h2v1h-2zM404 156h2v1h-2zM407 156h1v1h-1zM419 156h2v1h-2zM428 156h1v1h-1zM397 157h2v1h-2zM421 157h4v1h-4zM427 157h2v1h-2zM451 157h1v1h-1zM395 158h2v1h-2zM425 158h3v1h-3zM451 158h1v1h-1zM393 159h2v1h-2zM428 159h3v1h-3zM384 160h1v1h-1zM392 160h1v1h-1zM394 160h1v1h-1zM430 160h2v1h-2zM451 160h1v1h-1zM384 161h1v1h-1zM390 161h1v1h-1zM393 161h1v1h-1zM433 161h1v1h-1zM452 161h1v1h-1zM392 162h1v1h-1zM433 162h1v1h-1zM435 162h1v1h-1zM445 162h1v1h-1zM451 162h1v1h-1zM455 162h1v1h-1zM388 163h1v1h-1zM390 163h1v1h-1zM436 163h4v1h-4zM443 163h3v1h-3zM451 163h2v1h-2zM388 164h1v1h-1zM439 164h4v1h-4zM435 165h1v1h-1zM441 165h1v1h-1zM460 165h1v1h-1zM436 166h1v1h-1zM392 168h5v1h-5zM482 168h2v1h-2zM390 169h3v1h-3zM394 169h2v1h-2zM397 169h2v1h-2zM403 169h1v1h-1zM455 169h1v1h-1zM459 169h1v1h-1zM477 169h3v1h-3zM482 169h1v1h-1zM489 169h3v1h-3zM396 170h7v1h-7zM455 170h1v1h-1zM459 170h1v1h-1zM491 170h2v1h-2zM461 171h1v1h-1zM465 171h1v1h-1zM468 171h2v1h-2zM478 171h1v1h-1zM483 171h1v1h-1zM515 171h1v1h-1zM401 172h1v1h-1zM461 172h1v1h-1zM464 172h2v1h-2zM469 172h1v1h-1zM477 172h1v1h-1zM482 172h2v1h-2zM494 172h1v1h-1zM511 172h5v1h-5zM401 173h1v1h-1zM463 173h2v1h-2zM482 173h1v1h-1zM494 173h3v1h-3zM506 173h1v1h-1zM512 173h1v1h-1zM454 174h2v1h-2zM496 174h3v1h-3zM502 174h1v1h-1zM504 174h2v1h-2zM515 174h1v1h-1zM387 175h11v1h-11zM399 175h1v1h-1zM453 175h2v1h-2zM498 175h4v1h-4zM515 175h1v1h-1zM399 176h1v1h-1zM415 176h3v1h-3zM441 176h1v1h-1zM451 176h2v1h-2zM514 176h1v1h-1zM410 177h1v1h-1zM412 177h2v1h-2zM418 177h5v1h-5zM441 177h1v1h-1zM449 177h2v1h-2zM514 177h1v1h-1zM518 177h1v1h-1zM375 178h3v1h-3zM379 178h4v1h-4zM387 178h5v1h-5zM395 178h3v1h-3zM412 178h1v1h-1zM422 178h2v1h-2zM447 178h2v1h-2zM479 178h1v1h-1zM519 178h2v1h-2zM525 178h1v1h-1zM371 179h2v1h-2zM374 179h1v1h-1zM391 179h1v1h-1zM393 179h1v1h-1zM410 179h1v1h-1zM424 179h1v1h-1zM445 179h3v1h-3zM479 179h1v1h-1zM523 179h1v1h-1zM538 179h1v1h-1zM374 180h4v1h-4zM389 180h2v1h-2zM393 180h1v1h-1zM424 180h1v1h-1zM443 180h3v1h-3zM523 180h1v1h-1zM525 180h1v1h-1zM538 180h1v1h-1zM391 181h1v1h-1zM425 181h1v1h-1zM525 181h2v1h-2zM374 182h3v1h-3zM387 182h1v1h-1zM390 182h1v1h-1zM426 182h1v1h-1zM528 182h2v1h-2zM538 182h3v1h-3zM378 183h5v1h-5zM384 183h3v1h-3zM426 183h1v1h-1zM511 183h1v1h-1zM528 183h5v1h-5zM538 183h1v1h-1zM543 183h1v1h-1zM378 184h4v1h-4zM387 184h1v1h-1zM427 184h1v1h-1zM511 184h1v1h-1zM532 184h2v1h-2zM549 184h1v1h-1zM385 185h2v1h-2zM408 185h1v1h-1zM427 185h1v1h-1zM534 185h1v1h-1zM543 185h1v1h-1zM379 186h4v1h-4zM384 186h1v1h-1zM387 186h1v1h-1zM408 186h1v1h-1zM526 186h1v1h-1zM543 186h1v1h-1zM379 187h2v1h-2zM387 187h2v1h-2zM398 187h1v1h-1zM406 187h2v1h-2zM524 187h3v1h-3zM372 188h1v1h-1zM374 188h5v1h-5zM388 188h1v1h-1zM397 188h2v1h-2zM404 188h2v1h-2zM523 188h2v1h-2zM395 189h2v1h-2zM402 189h2v1h-2zM522 189h1v1h-1zM392 190h4v1h-4zM399 190h3v1h-3zM521 190h2v1h-2zM390 191h1v1h-1zM397 191h3v1h-3zM468 191h1v1h-1zM396 192h1v1h-1zM466 192h2v1h-2zM396 193h1v1h-1zM492 193h2v1h-2zM543 193h1v1h-1zM395 194h1v1h-1zM428 194h1v1h-1zM493 194h1v1h-1zM534 194h2v1h-2zM393 195h3v1h-3zM428 195h1v1h-1zM494 195h1v1h-1zM534 195h1v1h-1zM427 196h1v1h-1zM541 196h2v1h-2zM428 197h2v1h-2zM463 197h1v1h-1zM539 197h3v1h-3zM429 198h1v1h-1zM463 198h1v1h-1zM476 198h1v1h-1zM532 198h1v1h-1zM537 198h2v1h-2zM430 199h1v1h-1zM497 199h1v1h-1zM506 199h1v1h-1zM532 199h1v1h-1zM394 200h2v1h-2zM474 200h1v1h-1zM476 200h1v1h-1zM497 200h1v1h-1zM504 200h3v1h-3zM396 201h3v1h-3zM473 201h2v1h-2zM504 201h1v1h-1zM535 201h1v1h-1zM398 202h2v1h-2zM502 202h1v1h-1zM533 202h2v1h-2zM399 203h1v1h-1zM501 203h1v1h-1zM533 203h1v1h-1zM501 204h1v1h-1zM547 204h1v1h-1zM500 205h1v1h-1zM545 205h1v1h-1zM469 206h1v1h-1zM499 206h2v1h-2zM544 206h1v1h-1zM551 206h1v1h-1zM391 207h2v1h-2zM464 207h3v1h-3zM468 207h1v1h-1zM556 207h1v1h-1zM392 208h1v1h-1zM462 208h1v1h-1zM466 208h2v1h-2zM542 208h1v1h-1zM462 209h1v1h-1zM544 209h1v1h-1zM392 210h1v1h-1zM461 210h1v1h-1zM545 210h2v1h-2zM550 210h1v1h-1zM556 210h1v1h-1zM394 211h1v1h-1zM461 211h1v1h-1zM547 211h3v1h-3zM392 212h1v1h-1zM396 212h2v1h-2zM460 212h1v1h-1zM394 213h1v1h-1zM396 213h5v1h-5zM460 213h1v1h-1zM539 213h1v1h-1zM541 213h2v1h-2zM398 214h3v1h-3zM459 214h1v1h-1zM538 214h1v1h-1zM542 214h2v1h-2zM554 214h1v1h-1zM402 215h1v1h-1zM459 215h1v1h-1zM538 215h1v1h-1zM544 215h1v1h-1zM552 215h1v1h-1zM403 216h2v1h-2zM537 216h1v1h-1zM548 216h3v1h-3zM405 217h3v1h-3zM536 217h1v1h-1zM546 217h2v1h-2zM407 218h1v1h-1zM532 218h1v1h-1zM536 218h1v1h-1zM408 219h1v1h-1zM457 219h1v1h-1zM529 219h2v1h-2zM533 219h2v1h-2zM409 220h2v1h-2zM456 220h2v1h-2zM511 220h1v1h-1zM525 220h4v1h-4zM553 220h1v1h-1zM410 221h2v1h-2zM414 221h6v1h-6zM456 221h1v1h-1zM511 221h1v1h-1zM519 221h6v1h-6zM390 222h1v1h-1zM392 222h2v1h-2zM411 222h3v1h-3zM510 222h1v1h-1zM515 222h4v1h-4zM390 223h1v1h-1zM393 223h2v1h-2zM509 223h1v1h-1zM515 223h1v1h-1zM387 224h1v1h-1zM394 224h1v1h-1zM454 224h1v1h-1zM509 224h1v1h-1zM553 224h1v1h-1zM387 225h1v1h-1zM395 225h1v1h-1zM453 225h1v1h-1zM508 225h1v1h-1zM395 226h1v1h-1zM422 226h1v1h-1zM452 226h1v1h-1zM508 226h1v1h-1zM385 227h1v1h-1zM422 227h1v1h-1zM452 227h1v1h-1zM507 227h1v1h-1zM557 227h1v1h-1zM559 227h1v1h-1zM383 228h2v1h-2zM423 228h1v1h-1zM506 228h1v1h-1zM549 228h7v1h-7zM559 228h1v1h-1zM381 229h2v1h-2zM387 229h1v1h-1zM423 229h1v1h-1zM450 229h1v1h-1zM504 229h2v1h-2zM511 229h2v1h-2zM548 229h2v1h-2zM557 229h1v1h-1zM379 230h2v1h-2zM388 230h1v1h-1zM424 230h1v1h-1zM450 230h1v1h-1zM491 230h1v1h-1zM503 230h1v1h-1zM509 230h2v1h-2zM545 230h3v1h-3zM559 230h1v1h-1zM377 231h2v1h-2zM389 231h2v1h-2zM424 231h1v1h-1zM436 231h2v1h-2zM449 231h1v1h-1zM489 231h3v1h-3zM508 231h1v1h-1zM534 231h12v1h-12zM377 232h1v1h-1zM384 232h1v1h-1zM390 232h1v1h-1zM425 232h1v1h-1zM449 232h1v1h-1zM489 232h1v1h-1zM501 232h1v1h-1zM507 232h2v1h-2zM534 232h1v1h-1zM375 233h2v1h-2zM385 233h1v1h-1zM391 233h1v1h-1zM398 233h2v1h-2zM448 233h1v1h-1zM488 233h1v1h-1zM500 233h1v1h-1zM506 233h1v1h-1zM380 234h1v1h-1zM386 234h2v1h-2zM392 234h1v1h-1zM399 234h2v1h-2zM447 234h2v1h-2zM488 234h1v1h-1zM500 234h1v1h-1zM505 234h1v1h-1zM380 235h1v1h-1zM387 235h3v1h-3zM393 235h2v1h-2zM401 235h2v1h-2zM427 235h1v1h-1zM447 235h1v1h-1zM487 235h1v1h-1zM499 235h1v1h-1zM504 235h1v1h-1zM532 235h1v1h-1zM560 235h1v1h-1zM562 235h1v1h-1zM375 236h2v1h-2zM381 236h2v1h-2zM389 236h2v1h-2zM394 236h1v1h-1zM402 236h1v1h-1zM427 236h1v1h-1zM445 236h2v1h-2zM487 236h1v1h-1zM498 236h1v1h-1zM532 236h1v1h-1zM560 236h1v1h-1zM562 236h1v1h-1zM376 237h1v1h-1zM382 237h3v1h-3zM390 237h3v1h-3zM396 237h3v1h-3zM403 237h1v1h-1zM428 237h1v1h-1zM434 237h1v1h-1zM444 237h1v1h-1zM486 237h1v1h-1zM497 237h1v1h-1zM531 237h1v1h-1zM377 238h1v1h-1zM384 238h2v1h-2zM393 238h2v1h-2zM399 238h7v1h-7zM429 238h2v1h-2zM433 238h2v1h-2zM485 238h2v1h-2zM497 238h1v1h-1zM529 238h2v1h-2zM572 238h2v1h-2zM378 239h1v1h-1zM386 239h1v1h-1zM404 239h3v1h-3zM430 239h1v1h-1zM433 239h1v1h-1zM482 239h2v1h-2zM485 239h1v1h-1zM496 239h1v1h-1zM527 239h3v1h-3zM566 239h1v1h-1zM572 239h1v1h-1zM574 239h2v1h-2zM406 240h3v1h-3zM431 240h2v1h-2zM480 240h1v1h-1zM482 240h2v1h-2zM496 240h1v1h-1zM526 240h2v1h-2zM559 240h2v1h-2zM566 240h3v1h-3zM375 241h4v1h-4zM408 241h3v1h-3zM432 241h1v1h-1zM478 241h1v1h-1zM480 241h1v1h-1zM525 241h2v1h-2zM558 241h2v1h-2zM569 241h2v1h-2zM573 241h3v1h-3zM579 241h1v1h-1zM373 242h2v1h-2zM381 242h6v1h-6zM410 242h2v1h-2zM433 242h3v1h-3zM477 242h2v1h-2zM523 242h2v1h-2zM371 243h1v1h-1zM386 243h4v1h-4zM435 243h1v1h-1zM476 243h1v1h-1zM517 243h7v1h-7zM574 243h2v1h-2zM579 243h1v1h-1zM390 244h5v1h-5zM436 244h1v1h-1zM476 244h1v1h-1zM517 244h3v1h-3zM522 244h1v1h-1zM394 245h3v1h-3zM413 245h1v1h-1zM437 245h2v1h-2zM520 245h2v1h-2zM397 246h4v1h-4zM407 246h5v1h-5zM413 246h1v1h-1zM438 246h1v1h-1zM515 246h1v1h-1zM401 247h6v1h-6zM439 247h1v1h-1zM515 247h1v1h-1zM440 248h5v1h-5zM473 248h1v1h-1zM574 248h2v1h-2zM415 249h1v1h-1zM473 249h1v1h-1zM492 249h1v1h-1zM415 250h1v1h-1zM492 250h1v1h-1zM578 250h1v1h-1zM371 251h1v1h-1zM416 251h2v1h-2zM491 251h1v1h-1zM578 251h1v1h-1zM371 252h1v1h-1zM417 252h2v1h-2zM491 252h1v1h-1zM510 252h1v1h-1zM418 253h1v1h-1zM490 253h1v1h-1zM510 253h1v1h-1zM575 253h1v1h-1zM419 254h2v1h-2zM487 254h3v1h-3zM373 255h1v1h-1zM420 255h2v1h-2zM486 255h2v1h-2zM373 256h1v1h-1zM422 256h2v1h-2zM508 256h1v1h-1zM568 256h2v1h-2zM374 257h1v1h-1zM399 257h3v1h-3zM424 257h4v1h-4zM507 257h2v1h-2zM564 257h3v1h-3zM575 257h2v1h-2zM374 258h1v1h-1zM376 258h2v1h-2zM395 258h4v1h-4zM402 258h3v1h-3zM428 258h3v1h-3zM507 258h1v1h-1zM564 258h3v1h-3zM568 258h2v1h-2zM572 258h2v1h-2zM575 258h2v1h-2zM578 258h1v1h-1zM377 259h1v1h-1zM379 259h15v1h-15zM396 259h2v1h-2zM404 259h3v1h-3zM431 259h1v1h-1zM505 259h2v1h-2zM561 259h1v1h-1zM395 260h1v1h-1zM406 260h2v1h-2zM431 260h1v1h-1zM503 260h2v1h-2zM561 260h1v1h-1zM391 261h3v1h-3zM408 261h2v1h-2zM502 261h2v1h-2zM560 261h1v1h-1zM376 262h1v1h-1zM388 262h4v1h-4zM410 262h3v1h-3zM501 262h1v1h-1zM560 262h1v1h-1zM376 263h1v1h-1zM386 263h2v1h-2zM412 263h6v1h-6zM433 263h1v1h-1zM482 263h1v1h-1zM500 263h2v1h-2zM385 264h2v1h-2zM418 264h2v1h-2zM433 264h1v1h-1zM468 264h1v1h-1zM482 264h1v1h-1zM499 264h1v1h-1zM572 264h1v1h-1zM378 265h1v1h-1zM384 265h1v1h-1zM419 265h2v1h-2zM468 265h1v1h-1zM481 265h1v1h-1zM498 265h2v1h-2zM558 265h1v1h-1zM379 266h2v1h-2zM383 266h1v1h-1zM421 266h1v1h-1zM467 266h1v1h-1zM481 266h1v1h-1zM558 266h1v1h-1zM381 267h3v1h-3zM467 267h1v1h-1zM557 267h1v1h-1zM588 267h2v1h-2zM423 268h1v1h-1zM466 268h1v1h-1zM556 268h1v1h-1zM579 268h2v1h-2zM585 268h2v1h-2zM590 268h3v1h-3zM597 268h1v1h-1zM424 269h1v1h-1zM436 269h1v1h-1zM466 269h1v1h-1zM479 269h1v1h-1zM554 269h2v1h-2zM579 269h1v1h-1zM581 269h1v1h-1zM583 269h3v1h-3zM424 270h1v1h-1zM436 270h1v1h-1zM477 270h2v1h-2zM495 270h1v1h-1zM582 270h1v1h-1zM586 270h1v1h-1zM425 271h1v1h-1zM437 271h1v1h-1zM464 271h1v1h-1zM466 271h2v1h-2zM474 271h3v1h-3zM495 271h1v1h-1zM586 271h1v1h-1zM426 272h1v1h-1zM437 272h1v1h-1zM463 272h2v1h-2zM468 272h6v1h-6zM494 272h1v1h-1zM426 273h1v1h-1zM438 273h1v1h-1zM463 273h1v1h-1zM493 273h2v1h-2zM590 273h2v1h-2zM593 273h1v1h-1zM427 274h1v1h-1zM438 274h2v1h-2zM492 274h2v1h-2zM590 274h1v1h-1zM427 275h1v1h-1zM439 275h1v1h-1zM461 275h1v1h-1zM492 275h1v1h-1zM380 276h3v1h-3zM389 276h5v1h-5zM428 276h2v1h-2zM440 276h1v1h-1zM461 276h1v1h-1zM491 276h1v1h-1zM551 276h1v1h-1zM590 276h1v1h-1zM383 277h7v1h-7zM393 277h3v1h-3zM401 277h11v1h-11zM430 277h5v1h-5zM459 277h2v1h-2zM489 277h2v1h-2zM549 277h2v1h-2zM590 277h1v1h-1zM396 278h5v1h-5zM411 278h3v1h-3zM434 278h7v1h-7zM459 278h1v1h-1zM488 278h1v1h-1zM545 278h4v1h-4zM413 279h2v1h-2zM458 279h1v1h-1zM487 279h1v1h-1zM543 279h3v1h-3zM583 279h2v1h-2zM590 279h1v1h-1zM593 279h1v1h-1zM415 280h2v1h-2zM443 280h1v1h-1zM457 280h2v1h-2zM542 280h2v1h-2zM584 280h1v1h-1zM588 280h3v1h-3zM593 280h1v1h-1zM385 281h5v1h-5zM414 281h3v1h-3zM443 281h2v1h-2zM450 281h1v1h-1zM457 281h1v1h-1zM541 281h1v1h-1zM585 281h1v1h-1zM587 281h1v1h-1zM382 282h3v1h-3zM389 282h3v1h-3zM411 282h3v1h-3zM418 282h3v1h-3zM444 282h2v1h-2zM450 282h1v1h-1zM456 282h1v1h-1zM485 282h1v1h-1zM540 282h1v1h-1zM586 282h2v1h-2zM593 282h1v1h-1zM381 283h1v1h-1zM392 283h1v1h-1zM410 283h2v1h-2zM421 283h1v1h-1zM445 283h2v1h-2zM451 283h1v1h-1zM455 283h1v1h-1zM483 283h2v1h-2zM585 283h1v1h-1zM392 284h1v1h-1zM409 284h1v1h-1zM421 284h1v1h-1zM446 284h1v1h-1zM451 284h1v1h-1zM454 284h2v1h-2zM481 284h2v1h-2zM584 284h2v1h-2zM593 284h2v1h-2zM385 285h7v1h-7zM393 285h1v1h-1zM409 285h1v1h-1zM447 285h3v1h-3zM453 285h1v1h-1zM480 285h2v1h-2zM594 285h1v1h-1zM381 286h4v1h-4zM392 286h2v1h-2zM408 286h1v1h-1zM451 286h1v1h-1zM453 286h2v1h-2zM479 286h1v1h-1zM406 287h2v1h-2zM423 287h2v1h-2zM451 287h1v1h-1zM454 287h1v1h-1zM477 287h2v1h-2zM584 287h1v1h-1zM404 288h3v1h-3zM424 288h3v1h-3zM476 288h2v1h-2zM584 288h1v1h-1zM589 288h6v1h-6zM596 288h1v1h-1zM402 289h3v1h-3zM427 289h3v1h-3zM449 289h1v1h-1zM474 289h3v1h-3zM587 289h2v1h-2zM596 289h1v1h-1zM378 290h1v1h-1zM400 290h4v1h-4zM430 290h1v1h-1zM433 290h2v1h-2zM436 290h1v1h-1zM448 290h3v1h-3zM470 290h1v1h-1zM472 290h3v1h-3zM586 290h1v1h-1zM598 290h1v1h-1zM378 291h1v1h-1zM390 291h3v1h-3zM394 291h7v1h-7zM433 291h2v1h-2zM437 291h2v1h-2zM445 291h3v1h-3zM468 291h1v1h-1zM470 291h3v1h-3zM596 291h1v1h-1zM598 291h1v1h-1zM600 291h1v1h-1zM381 292h2v1h-2zM384 292h6v1h-6zM397 292h2v1h-2zM430 292h1v1h-1zM436 292h3v1h-3zM440 292h1v1h-1zM443 292h3v1h-3zM465 292h2v1h-2zM468 292h1v1h-1zM535 292h2v1h-2zM596 292h1v1h-1zM381 293h2v1h-2zM396 293h1v1h-1zM440 293h1v1h-1zM442 293h2v1h-2zM457 293h1v1h-1zM463 293h4v1h-4zM534 293h2v1h-2zM598 293h1v1h-1zM384 294h1v1h-1zM395 294h1v1h-1zM442 294h1v1h-1zM458 294h2v1h-2zM462 294h3v1h-3zM532 294h2v1h-2zM596 294h1v1h-1zM385 295h5v1h-5zM395 295h1v1h-1zM459 295h1v1h-1zM462 295h1v1h-1zM531 295h1v1h-1zM598 295h1v1h-1zM390 296h2v1h-2zM429 296h1v1h-1zM528 296h3v1h-3zM596 296h1v1h-1zM388 297h3v1h-3zM429 297h1v1h-1zM527 297h2v1h-2zM594 297h2v1h-2zM382 298h7v1h-7zM593 298h1v1h-1zM392 299h1v1h-1zM461 299h1v1h-1zM592 299h2v1h-2zM391 300h1v1h-1zM441 300h1v1h-1zM461 300h1v1h-1zM590 300h3v1h-3zM390 301h2v1h-2zM441 301h1v1h-1zM589 301h1v1h-1zM603 301h2v1h-2zM387 302h4v1h-4zM588 302h1v1h-1zM603 302h2v1h-2zM384 303h3v1h-3zM586 303h2v1h-2zM584 304h3v1h-3zM603 304h2v1h-2zM415 305h4v1h-4zM423 305h2v1h-2zM602 305h2v1h-2zM407 306h6v1h-6zM419 306h2v1h-2zM422 306h1v1h-1zM524 306h2v1h-2zM596 306h2v1h-2zM403 307h4v1h-4zM522 307h2v1h-2zM595 307h2v1h-2zM400 308h3v1h-3zM412 308h1v1h-1zM462 308h2v1h-2zM486 308h7v1h-7zM520 308h2v1h-2zM594 308h1v1h-1zM383 309h1v1h-1zM398 309h2v1h-2zM411 309h1v1h-1zM464 309h3v1h-3zM485 309h1v1h-1zM493 309h2v1h-2zM520 309h1v1h-1zM593 309h2v1h-2zM383 310h1v1h-1zM395 310h3v1h-3zM410 310h1v1h-1zM467 310h2v1h-2zM483 310h3v1h-3zM519 310h1v1h-1zM592 310h1v1h-1zM390 311h5v1h-5zM398 311h1v1h-1zM409 311h1v1h-1zM439 311h1v1h-1zM459 311h1v1h-1zM468 311h1v1h-1zM481 311h3v1h-3zM519 311h1v1h-1zM591 311h1v1h-1zM601 311h2v1h-2zM604 311h1v1h-1zM386 312h1v1h-1zM388 312h2v1h-2zM396 312h2v1h-2zM409 312h1v1h-1zM439 312h1v1h-1zM459 312h1v1h-1zM469 312h2v1h-2zM478 312h3v1h-3zM590 312h1v1h-1zM600 312h2v1h-2zM386 313h1v1h-1zM388 313h2v1h-2zM394 313h2v1h-2zM408 313h1v1h-1zM438 313h1v1h-1zM470 313h2v1h-2zM473 313h6v1h-6zM589 313h2v1h-2zM599 313h1v1h-1zM392 314h2v1h-2zM407 314h1v1h-1zM438 314h1v1h-1zM497 314h3v1h-3zM588 314h2v1h-2zM604 314h1v1h-1zM391 315h1v1h-1zM406 315h1v1h-1zM421 315h1v1h-1zM457 315h1v1h-1zM500 315h15v1h-15zM517 315h1v1h-1zM586 315h2v1h-2zM597 315h1v1h-1zM603 315h2v1h-2zM389 316h1v1h-1zM405 316h2v1h-2zM420 316h2v1h-2zM457 316h1v1h-1zM516 316h2v1h-2zM585 316h2v1h-2zM596 316h2v1h-2zM404 317h2v1h-2zM418 317h2v1h-2zM456 317h1v1h-1zM585 317h1v1h-1zM593 317h4v1h-4zM599 317h2v1h-2zM403 318h1v1h-1zM414 318h4v1h-4zM434 318h2v1h-2zM454 318h2v1h-2zM590 318h4v1h-4zM601 318h1v1h-1zM402 319h1v1h-1zM413 319h2v1h-2zM434 319h1v1h-1zM452 319h2v1h-2zM586 319h4v1h-4zM401 320h1v1h-1zM411 320h2v1h-2zM433 320h1v1h-1zM452 320h1v1h-1zM585 320h2v1h-2zM391 321h3v1h-3zM396 321h1v1h-1zM400 321h1v1h-1zM409 321h2v1h-2zM432 321h1v1h-1zM603 321h1v1h-1zM393 322h3v1h-3zM398 322h2v1h-2zM406 322h3v1h-3zM431 322h1v1h-1zM474 322h1v1h-1zM603 322h1v1h-1zM397 323h1v1h-1zM406 323h1v1h-1zM430 323h1v1h-1zM474 323h1v1h-1zM517 323h1v1h-1zM396 324h1v1h-1zM405 324h1v1h-1zM429 324h1v1h-1zM517 324h1v1h-1zM394 325h3v1h-3zM404 325h1v1h-1zM428 325h1v1h-1zM518 325h1v1h-1zM606 325h1v1h-1zM609 325h2v1h-2zM393 326h1v1h-1zM403 326h2v1h-2zM518 326h2v1h-2zM584 326h3v1h-3zM610 326h1v1h-1zM403 327h1v1h-1zM519 327h1v1h-1zM587 327h5v1h-5zM606 327h1v1h-1zM402 328h1v1h-1zM426 328h1v1h-1zM520 328h1v1h-1zM582 328h1v1h-1zM592 328h2v1h-2zM605 328h2v1h-2zM401 329h2v1h-2zM426 329h1v1h-1zM521 329h2v1h-2zM582 329h1v1h-1zM594 329h2v1h-2zM603 329h2v1h-2zM398 330h4v1h-4zM423 330h3v1h-3zM522 330h3v1h-3zM596 330h8v1h-8zM396 331h3v1h-3zM422 331h2v1h-2zM523 331h4v1h-4zM394 332h2v1h-2zM409 332h5v1h-5zM419 332h3v1h-3zM525 332h2v1h-2zM612 332h1v1h-1zM395 333h1v1h-1zM405 333h4v1h-4zM414 333h2v1h-2zM417 333h2v1h-2zM527 333h2v1h-2zM612 333h1v1h-1zM404 334h2v1h-2zM528 334h2v1h-2zM403 335h1v1h-1zM530 335h2v1h-2zM532 336h1v1h-1zM582 337h1v1h-1zM608 337h1v1h-1zM395 338h1v1h-1zM401 338h1v1h-1zM413 338h3v1h-3zM583 338h2v1h-2zM401 339h1v1h-1zM412 339h2v1h-2zM534 339h1v1h-1zM579 339h1v1h-1zM581 339h1v1h-1zM585 339h2v1h-2zM400 340h1v1h-1zM410 340h2v1h-2zM450 340h1v1h-1zM577 340h3v1h-3zM581 340h1v1h-1zM587 340h2v1h-2zM398 341h3v1h-3zM408 341h2v1h-2zM448 341h2v1h-2zM575 341h3v1h-3zM589 341h2v1h-2zM599 341h6v1h-6zM606 341h1v1h-1zM398 342h1v1h-1zM406 342h2v1h-2zM446 342h2v1h-2zM574 342h2v1h-2zM591 342h2v1h-2zM595 342h5v1h-5zM606 342h1v1h-1zM437 343h2v1h-2zM443 343h3v1h-3zM593 343h1v1h-1zM437 344h6v1h-6zM474 344h1v1h-1zM606 344h1v1h-1zM400 345h1v1h-1zM436 345h1v1h-1zM441 345h1v1h-1zM474 345h1v1h-1zM599 345h4v1h-4zM400 346h1v1h-1zM402 346h1v1h-1zM436 346h1v1h-1zM473 346h1v1h-1zM595 346h4v1h-4zM435 347h1v1h-1zM472 347h1v1h-1zM559 347h6v1h-6zM472 348h1v1h-1zM557 348h2v1h-2zM564 348h4v1h-4zM471 349h1v1h-1zM555 349h3v1h-3zM568 349h5v1h-5zM471 350h1v1h-1zM553 350h2v1h-2zM572 350h1v1h-1zM579 350h4v1h-4zM551 351h2v1h-2zM575 351h4v1h-4zM583 351h2v1h-2zM432 352h1v1h-1zM549 352h2v1h-2zM574 352h1v1h-1zM585 352h3v1h-3zM604 352h2v1h-2zM432 353h1v1h-1zM537 353h1v1h-1zM548 353h1v1h-1zM574 353h1v1h-1zM587 353h1v1h-1zM417 354h5v1h-5zM537 354h1v1h-1zM546 354h2v1h-2zM588 354h2v1h-2zM414 355h2v1h-2zM417 355h1v1h-1zM421 355h3v1h-3zM538 355h1v1h-1zM544 355h2v1h-2zM590 355h2v1h-2zM597 355h1v1h-1zM414 356h1v1h-1zM423 356h3v1h-3zM429 356h2v1h-2zM538 356h6v1h-6zM592 356h2v1h-2zM401 357h2v1h-2zM404 357h7v1h-7zM412 357h1v1h-1zM426 357h3v1h-3zM536 357h2v1h-2zM574 357h1v1h-1zM594 357h2v1h-2zM597 357h1v1h-1zM412 358h1v1h-1zM536 358h1v1h-1zM574 358h1v1h-1zM410 359h1v1h-1zM597 359h2v1h-2zM408 360h2v1h-2zM440 360h1v1h-1zM574 360h4v1h-4zM598 360h2v1h-2zM407 361h2v1h-2zM440 361h1v1h-1zM577 361h6v1h-6zM406 362h1v1h-1zM438 362h2v1h-2zM574 362h1v1h-1zM582 362h3v1h-3zM404 363h2v1h-2zM437 363h2v1h-2zM574 363h1v1h-1zM585 363h2v1h-2zM403 364h1v1h-1zM436 364h1v1h-1zM575 364h1v1h-1zM587 364h3v1h-3zM599 364h1v1h-1zM401 365h1v1h-1zM407 365h4v1h-4zM434 365h2v1h-2zM575 365h1v1h-1zM589 365h1v1h-1zM599 365h1v1h-1zM401 366h1v1h-1zM405 366h2v1h-2zM411 366h2v1h-2zM432 366h3v1h-3zM576 366h1v1h-1zM590 366h2v1h-2zM597 366h1v1h-1zM403 367h2v1h-2zM409 367h2v1h-2zM431 367h2v1h-2zM577 367h1v1h-1zM592 367h2v1h-2zM596 367h1v1h-1zM404 368h1v1h-1zM409 368h1v1h-1zM411 368h1v1h-1zM430 368h1v1h-1zM577 368h1v1h-1zM596 368h1v1h-1zM405 369h1v1h-1zM408 369h1v1h-1zM411 369h1v1h-1zM428 369h2v1h-2zM578 369h1v1h-1zM593 369h1v1h-1zM406 370h1v1h-1zM408 370h1v1h-1zM425 370h3v1h-3zM579 370h1v1h-1zM407 371h1v1h-1zM425 371h1v1h-1zM579 371h1v1h-1zM593 371h1v1h-1zM595 371h1v1h-1zM598 371h1v1h-1zM408 372h2v1h-2zM424 372h1v1h-1zM580 372h3v1h-3zM595 372h1v1h-1zM598 372h1v1h-1zM409 373h1v1h-1zM422 373h2v1h-2zM582 373h3v1h-3zM411 374h2v1h-2zM420 374h2v1h-2zM584 374h5v1h-5zM412 375h1v1h-1zM420 375h1v1h-1zM466 375h1v1h-1zM585 375h1v1h-1zM588 375h6v1h-6zM413 376h1v1h-1zM418 376h2v1h-2zM465 376h2v1h-2zM597 376h1v1h-1zM414 377h1v1h-1zM417 377h1v1h-1zM463 377h3v1h-3zM534 377h1v1h-1zM594 377h2v1h-2zM598 377h2v1h-2zM603 377h1v1h-1zM416 378h1v1h-1zM462 378h2v1h-2zM533 378h1v1h-1zM592 378h3v1h-3zM460 379h2v1h-2zM531 379h2v1h-2zM591 379h2v1h-2zM603 379h1v1h-1zM458 380h1v1h-1zM460 380h1v1h-1zM531 380h1v1h-1zM590 380h1v1h-1zM599 380h1v1h-1zM603 380h1v1h-1zM439 381h5v1h-5zM455 381h4v1h-4zM589 381h1v1h-1zM599 381h1v1h-1zM437 382h3v1h-3zM444 382h1v1h-1zM446 382h4v1h-4zM453 382h4v1h-4zM588 382h1v1h-1zM598 382h1v1h-1zM434 383h4v1h-4zM446 383h6v1h-6zM453 383h1v1h-1zM524 383h6v1h-6zM598 383h1v1h-1zM430 384h6v1h-6zM418 385h10v1h-10zM429 385h4v1h-4zM596 385h1v1h-1zM418 386h5v1h-5zM429 386h1v1h-1zM595 386h2v1h-2zM594 387h1v1h-1zM441 388h1v1h-1zM600 388h1v1h-1zM602 388h1v1h-1zM441 389h1v1h-1zM450 389h1v1h-1zM600 389h1v1h-1zM419 390h1v1h-1zM439 390h2v1h-2zM450 390h1v1h-1zM419 391h1v1h-1zM425 391h1v1h-1zM437 391h2v1h-2zM449 391h1v1h-1zM424 392h1v1h-1zM436 392h2v1h-2zM449 392h1v1h-1zM423 393h1v1h-1zM435 393h2v1h-2zM448 393h1v1h-1zM421 394h2v1h-2zM434 394h2v1h-2zM421 395h1v1h-1zM434 395h1v1h-1zM422 396h1v1h-1zM433 396h1v1h-1zM422 397h1v1h-1zM432 397h1v1h-1zM592 397h3v1h-3zM600 397h2v1h-2zM431 398h1v1h-1zM445 398h1v1h-1zM589 398h2v1h-2zM595 398h2v1h-2zM598 398h2v1h-2zM444 399h1v1h-1zM586 399h3v1h-3zM424 400h3v1h-3zM443 400h2v1h-2zM586 400h1v1h-1zM592 400h1v1h-1zM427 401h1v1h-1zM429 401h1v1h-1zM443 401h1v1h-1zM585 401h1v1h-1zM592 401h1v1h-1zM442 402h1v1h-1zM583 402h2v1h-2zM593 402h1v1h-1zM424 403h1v1h-1zM441 403h1v1h-1zM583 403h1v1h-1zM593 403h1v1h-1zM425 404h1v1h-1zM440 404h2v1h-2zM522 404h1v1h-1zM581 404h2v1h-2zM594 404h1v1h-1zM425 405h1v1h-1zM439 405h1v1h-1zM522 405h4v1h-4zM579 405h2v1h-2zM595 405h1v1h-1zM606 405h1v1h-1zM426 406h1v1h-1zM439 406h1v1h-1zM525 406h2v1h-2zM577 406h2v1h-2zM596 406h1v1h-1zM606 406h1v1h-1zM438 407h1v1h-1zM575 407h2v1h-2zM597 407h1v1h-1zM437 408h2v1h-2zM575 408h1v1h-1zM586 408h1v1h-1zM597 408h1v1h-1zM600 408h1v1h-1zM436 409h1v1h-1zM586 409h1v1h-1zM600 409h1v1h-1zM435 410h1v1h-1zM587 410h1v1h-1zM597 410h1v1h-1zM434 411h1v1h-1zM573 411h1v1h-1zM587 411h1v1h-1zM597 411h1v1h-1zM433 412h1v1h-1zM572 412h2v1h-2zM588 412h5v1h-5zM432 413h1v1h-1zM572 413h1v1h-1zM592 413h9v1h-9zM429 414h3v1h-3zM428 415h2v1h-2zM609 415h1v1h-1zM425 416h3v1h-3zM450 416h1v1h-1zM465 416h5v1h-5zM604 416h2v1h-2zM609 416h1v1h-1zM424 417h1v1h-1zM451 417h2v1h-2zM464 417h2v1h-2zM470 417h2v1h-2zM605 417h1v1h-1zM425 418h1v1h-1zM452 418h1v1h-1zM462 418h2v1h-2zM471 418h1v1h-1zM604 418h1v1h-1zM448 419h1v1h-1zM453 419h1v1h-1zM460 419h3v1h-3zM472 419h1v1h-1zM448 420h1v1h-1zM454 420h2v1h-2zM458 420h2v1h-2zM472 420h1v1h-1zM446 421h1v1h-1zM456 421h2v1h-2zM473 421h2v1h-2zM601 421h1v1h-1zM425 422h1v1h-1zM443 422h3v1h-3zM474 422h2v1h-2zM485 422h8v1h-8zM597 422h3v1h-3zM601 422h1v1h-1zM440 423h3v1h-3zM476 423h1v1h-1zM482 423h3v1h-3zM492 423h1v1h-1zM596 423h2v1h-2zM438 424h2v1h-2zM477 424h2v1h-2zM481 424h1v1h-1zM493 424h1v1h-1zM552 424h3v1h-3zM595 424h2v1h-2zM603 424h1v1h-1zM436 425h2v1h-2zM479 425h1v1h-1zM481 425h1v1h-1zM493 425h1v1h-1zM550 425h3v1h-3zM554 425h2v1h-2zM594 425h1v1h-1zM604 425h1v1h-1zM434 426h2v1h-2zM480 426h1v1h-1zM548 426h3v1h-3zM556 426h3v1h-3zM433 427h2v1h-2zM546 427h3v1h-3zM557 427h3v1h-3zM606 427h1v1h-1zM446 428h1v1h-1zM544 428h1v1h-1zM546 428h1v1h-1zM559 428h2v1h-2zM604 428h3v1h-3zM427 429h1v1h-1zM431 429h1v1h-1zM446 429h1v1h-1zM541 429h2v1h-2zM544 429h1v1h-1zM560 429h4v1h-4zM603 429h2v1h-2zM427 430h1v1h-1zM429 430h1v1h-1zM444 430h1v1h-1zM540 430h3v1h-3zM562 430h4v1h-4zM594 430h6v1h-6zM429 431h1v1h-1zM431 431h1v1h-1zM433 431h1v1h-1zM442 431h2v1h-2zM539 431h1v1h-1zM565 431h3v1h-3zM592 431h1v1h-1zM600 431h1v1h-1zM431 432h1v1h-1zM434 432h1v1h-1zM439 432h3v1h-3zM446 432h1v1h-1zM538 432h1v1h-1zM567 432h2v1h-2zM573 432h2v1h-2zM591 432h1v1h-1zM435 433h1v1h-1zM437 433h2v1h-2zM446 433h1v1h-1zM496 433h1v1h-1zM537 433h2v1h-2zM569 433h3v1h-3zM575 433h1v1h-1zM590 433h2v1h-2zM600 433h1v1h-1zM496 434h1v1h-1zM536 434h1v1h-1zM571 434h1v1h-1zM576 434h1v1h-1zM589 434h2v1h-2zM600 434h1v1h-1zM448 435h1v1h-1zM497 435h1v1h-1zM577 435h1v1h-1zM581 435h7v1h-7zM437 436h1v1h-1zM448 436h1v1h-1zM498 436h2v1h-2zM578 436h3v1h-3zM598 436h2v1h-2zM437 437h1v1h-1zM445 437h2v1h-2zM534 437h1v1h-1zM593 437h5v1h-5zM439 438h1v1h-1zM444 438h1v1h-1zM501 438h2v1h-2zM533 438h1v1h-1zM590 438h3v1h-3zM601 438h1v1h-1zM502 439h2v1h-2zM533 439h1v1h-1zM601 439h1v1h-1zM504 440h2v1h-2zM532 440h1v1h-1zM590 440h1v1h-1zM506 441h1v1h-1zM532 441h1v1h-1zM590 441h3v1h-3zM506 442h2v1h-2zM531 442h1v1h-1zM592 442h3v1h-3zM601 442h1v1h-1zM507 443h2v1h-2zM531 443h1v1h-1zM595 443h3v1h-3zM601 443h1v1h-1zM603 443h2v1h-2zM607 443h1v1h-1zM609 443h1v1h-1zM441 444h1v1h-1zM509 444h1v1h-1zM530 444h1v1h-1zM609 444h1v1h-1zM441 445h1v1h-1zM447 445h2v1h-2zM509 445h2v1h-2zM530 445h1v1h-1zM607 445h1v1h-1zM442 446h1v1h-1zM446 446h2v1h-2zM511 446h1v1h-1zM529 446h1v1h-1zM607 446h1v1h-1zM609 446h1v1h-1zM443 447h3v1h-3zM511 447h2v1h-2zM528 447h1v1h-1zM603 447h2v1h-2zM606 447h1v1h-1zM443 448h1v1h-1zM513 448h2v1h-2zM527 448h2v1h-2zM603 448h1v1h-1zM444 449h1v1h-1zM515 449h1v1h-1zM527 449h1v1h-1zM444 450h1v1h-1zM447 450h1v1h-1zM516 450h1v1h-1zM446 451h1v1h-1zM464 451h6v1h-6zM516 451h3v1h-3zM460 452h5v1h-5zM469 452h2v1h-2zM518 452h3v1h-3zM459 453h1v1h-1zM471 453h2v1h-2zM520 453h4v1h-4zM458 454h1v1h-1zM473 454h2v1h-2zM526 454h2v1h-2zM457 455h1v1h-1zM475 455h2v1h-2zM527 455h1v1h-1zM456 456h2v1h-2zM476 456h2v1h-2zM523 456h1v1h-1zM455 457h2v1h-2zM477 457h1v1h-1zM523 457h1v1h-1zM454 458h1v1h-1zM465 458h3v1h-3zM478 458h1v1h-1zM598 458h1v1h-1zM453 459h1v1h-1zM463 459h3v1h-3zM468 459h6v1h-6zM479 459h2v1h-2zM461 460h2v1h-2zM473 460h11v1h-11zM509 460h3v1h-3zM521 460h1v1h-1zM598 460h1v1h-1zM460 461h1v1h-1zM483 461h3v1h-3zM508 461h2v1h-2zM511 461h6v1h-6zM521 461h1v1h-1zM449 462h1v1h-1zM458 462h2v1h-2zM485 462h2v1h-2zM507 462h2v1h-2zM517 462h4v1h-4zM598 462h1v1h-1zM449 463h1v1h-1zM457 463h1v1h-1zM486 463h1v1h-1zM505 463h3v1h-3zM519 463h1v1h-1zM597 463h1v1h-1zM450 464h1v1h-1zM456 464h1v1h-1zM487 464h1v1h-1zM504 464h2v1h-2zM517 464h2v1h-2zM596 464h1v1h-1zM450 465h1v1h-1zM455 465h1v1h-1zM479 465h10v1h-10zM503 465h1v1h-1zM516 465h2v1h-2zM594 465h3v1h-3zM599 465h1v1h-1zM452 466h1v1h-1zM464 466h15v1h-15zM489 466h2v1h-2zM502 466h1v1h-1zM516 466h1v1h-1zM593 466h2v1h-2zM452 467h1v1h-1zM457 467h5v1h-5zM463 467h1v1h-1zM477 467h1v1h-1zM490 467h2v1h-2zM501 467h1v1h-1zM515 467h1v1h-1zM592 467h1v1h-1zM455 468h3v1h-3zM463 468h1v1h-1zM491 468h1v1h-1zM500 468h1v1h-1zM514 468h1v1h-1zM590 468h3v1h-3zM493 469h5v1h-5zM512 469h2v1h-2zM588 469h3v1h-3zM597 469h4v1h-4zM475 470h1v1h-1zM497 470h4v1h-4zM510 470h1v1h-1zM512 470h2v1h-2zM587 470h1v1h-1zM592 470h6v1h-6zM473 471h3v1h-3zM491 471h1v1h-1zM510 471h1v1h-1zM586 471h1v1h-1zM589 471h3v1h-3zM459 472h2v1h-2zM471 472h3v1h-3zM489 472h2v1h-2zM509 472h1v1h-1zM583 472h2v1h-2zM586 472h3v1h-3zM456 473h4v1h-4zM469 473h2v1h-2zM487 473h2v1h-2zM508 473h2v1h-2zM582 473h3v1h-3zM467 474h2v1h-2zM485 474h2v1h-2zM508 474h1v1h-1zM582 474h1v1h-1zM456 475h1v1h-1zM464 475h4v1h-4zM483 475h2v1h-2zM507 475h1v1h-1zM581 475h1v1h-1zM456 476h1v1h-1zM462 476h2v1h-2zM482 476h1v1h-1zM506 476h1v1h-1zM581 476h1v1h-1zM600 476h1v1h-1zM602 476h1v1h-1zM459 477h3v1h-3zM481 477h1v1h-1zM506 477h1v1h-1zM588 477h12v1h-12zM458 478h2v1h-2zM481 478h1v1h-1zM504 478h1v1h-1zM581 478h7v1h-7zM596 478h1v1h-1zM504 479h1v1h-1zM597 479h1v1h-1zM458 480h1v1h-1zM479 480h1v1h-1zM525 480h1v1h-1zM597 480h1v1h-1zM600 480h1v1h-1zM477 481h2v1h-2zM525 481h1v1h-1zM598 481h3v1h-3zM476 482h1v1h-1zM524 482h1v1h-1zM475 483h2v1h-2zM524 483h1v1h-1zM573 483h3v1h-3zM474 484h1v1h-1zM499 484h1v1h-1zM525 484h2v1h-2zM576 484h2v1h-2zM579 484h1v1h-1zM474 485h1v1h-1zM498 485h1v1h-1zM527 485h4v1h-4zM579 485h3v1h-3zM473 486h1v1h-1zM498 486h1v1h-1zM530 486h2v1h-2zM581 486h1v1h-1zM468 487h5v1h-5zM497 487h1v1h-1zM543 487h1v1h-1zM582 487h3v1h-3zM590 487h5v1h-5zM461 488h8v1h-8zM496 488h2v1h-2zM541 488h3v1h-3zM585 488h5v1h-5zM594 488h3v1h-3zM601 488h2v1h-2zM459 489h3v1h-3zM495 489h2v1h-2zM539 489h3v1h-3zM544 489h1v1h-1zM596 489h6v1h-6zM495 490h1v1h-1zM537 490h2v1h-2zM544 490h1v1h-1zM488 491h3v1h-3zM535 491h2v1h-2zM482 492h3v1h-3zM486 492h2v1h-2zM491 492h2v1h-2zM532 492h1v1h-1zM534 492h1v1h-1zM569 492h1v1h-1zM478 493h5v1h-5zM492 493h2v1h-2zM530 493h2v1h-2zM546 493h1v1h-1zM568 493h1v1h-1zM476 494h3v1h-3zM528 494h2v1h-2zM546 494h1v1h-1zM567 494h1v1h-1zM604 494h1v1h-1zM461 495h16v1h-16zM524 495h4v1h-4zM565 495h2v1h-2zM599 495h1v1h-1zM601 495h4v1h-4zM459 496h2v1h-2zM483 496h1v1h-1zM519 496h5v1h-5zM563 496h2v1h-2zM597 496h2v1h-2zM482 497h2v1h-2zM518 497h2v1h-2zM560 497h4v1h-4zM595 497h2v1h-2zM599 497h1v1h-1zM457 498h1v1h-1zM479 498h3v1h-3zM515 498h3v1h-3zM548 498h1v1h-1zM557 498h3v1h-3zM594 498h1v1h-1zM599 498h1v1h-1zM457 499h1v1h-1zM476 499h3v1h-3zM513 499h2v1h-2zM548 499h1v1h-1zM555 499h2v1h-2zM593 499h1v1h-1zM600 499h2v1h-2zM604 499h2v1h-2zM469 500h6v1h-6zM510 500h3v1h-3zM549 500h1v1h-1zM553 500h2v1h-2zM593 500h1v1h-1zM602 500h2v1h-2zM463 501h6v1h-6zM474 501h1v1h-1zM509 501h2v1h-2zM549 501h1v1h-1zM551 501h3v1h-3zM591 501h2v1h-2zM455 502h1v1h-1zM462 502h2v1h-2zM473 502h1v1h-1zM509 502h1v1h-1zM551 502h1v1h-1zM591 502h1v1h-1zM455 503h1v1h-1zM458 503h4v1h-4zM473 503h1v1h-1zM507 503h2v1h-2zM590 503h1v1h-1zM456 504h2v1h-2zM472 504h1v1h-1zM505 504h2v1h-2zM589 504h2v1h-2zM455 505h17v1h-17zM503 505h3v1h-3zM588 505h1v1h-1zM455 506h1v1h-1zM499 506h4v1h-4zM573 506h16v1h-16zM498 507h2v1h-2zM570 507h3v1h-3zM606 507h1v1h-1zM496 508h2v1h-2zM569 508h1v1h-1zM604 508h4v1h-4zM495 509h2v1h-2zM569 509h1v1h-1zM602 509h3v1h-3zM607 509h2v1h-2zM494 510h1v1h-1zM568 510h1v1h-1zM601 510h1v1h-1zM608 510h1v1h-1zM567 511h2v1h-2zM601 511h1v1h-1zM567 512h1v1h-1zM603 512h4v1h-4zM549 513h1v1h-1zM599 513h1v1h-1zM601 513h4v1h-4zM457 514h2v1h-2zM550 514h1v1h-1zM565 514h1v1h-1zM595 514h5v1h-5zM459 515h4v1h-4zM551 515h1v1h-1zM553 515h1v1h-1zM565 515h1v1h-1zM591 515h7v1h-7zM463 516h2v1h-2zM554 516h4v1h-4zM564 516h1v1h-1zM586 516h7v1h-7zM610 516h1v1h-1zM457 517h2v1h-2zM464 517h3v1h-3zM558 517h2v1h-2zM562 517h2v1h-2zM584 517h3v1h-3zM459 518h5v1h-5zM467 518h1v1h-1zM560 518h2v1h-2zM581 518h4v1h-4zM457 519h1v1h-1zM463 519h2v1h-2zM467 519h1v1h-1zM561 519h1v1h-1zM579 519h2v1h-2zM457 520h1v1h-1zM577 520h3v1h-3zM469 521h1v1h-1zM490 521h1v1h-1zM576 521h1v1h-1zM606 521h1v1h-1zM460 522h3v1h-3zM464 522h1v1h-1zM469 522h4v1h-4zM490 522h1v1h-1zM563 522h1v1h-1zM576 522h1v1h-1zM602 522h3v1h-3zM606 522h1v1h-1zM464 523h1v1h-1zM473 523h1v1h-1zM489 523h1v1h-1zM563 523h1v1h-1zM600 523h3v1h-3zM462 524h1v1h-1zM473 524h3v1h-3zM486 524h3v1h-3zM564 524h1v1h-1zM598 524h2v1h-2zM460 525h1v1h-1zM462 525h1v1h-1zM476 525h7v1h-7zM484 525h2v1h-2zM565 525h1v1h-1zM587 525h4v1h-4zM595 525h3v1h-3zM566 526h1v1h-1zM585 526h2v1h-2zM590 526h5v1h-5zM567 527h1v1h-1zM583 527h2v1h-2zM594 527h2v1h-2zM568 528h2v1h-2zM596 528h9v1h-9zM606 528h1v1h-1zM569 529h2v1h-2zM481 530h1v1h-1zM570 530h2v1h-2zM581 530h1v1h-1zM604 530h1v1h-1zM608 530h1v1h-1zM464 531h5v1h-5zM481 531h1v1h-1zM571 531h2v1h-2zM580 531h2v1h-2zM604 531h1v1h-1zM608 531h1v1h-1zM469 532h6v1h-6zM479 532h2v1h-2zM572 532h1v1h-1zM578 532h3v1h-3zM476 533h3v1h-3zM577 533h2v1h-2zM608 533h1v1h-1zM476 534h2v1h-2zM574 534h2v1h-2zM600 534h2v1h-2zM608 534h1v1h-1zM461 535h1v1h-1zM474 535h1v1h-1zM577 535h1v1h-1zM597 535h2v1h-2zM472 536h2v1h-2zM578 536h1v1h-1zM592 536h1v1h-1zM594 536h5v1h-5zM600 536h1v1h-1zM469 537h3v1h-3zM579 537h2v1h-2zM594 537h2v1h-2zM464 538h5v1h-5zM581 538h3v1h-3zM591 538h2v1h-2zM463 539h2v1h-2zM583 539h1v1h-1zM589 539h3v1h-3zM461 540h1v1h-1zM547 540h1v1h-1zM549 540h1v1h-1zM584 540h2v1h-2zM587 540h2v1h-2zM600 540h1v1h-1zM461 541h1v1h-1zM463 541h1v1h-1zM545 541h2v1h-2zM549 541h2v1h-2zM596 541h4v1h-4zM542 542h3v1h-3zM592 542h5v1h-5zM598 542h1v1h-1zM602 542h1v1h-1zM541 543h2v1h-2zM599 543h1v1h-1zM602 543h1v1h-1zM604 543h1v1h-1zM540 544h2v1h-2zM600 544h1v1h-1zM467 545h3v1h-3zM477 545h6v1h-6zM539 545h1v1h-1zM602 545h1v1h-1zM604 545h2v1h-2zM461 546h1v1h-1zM465 546h1v1h-1zM470 546h1v1h-1zM472 546h6v1h-6zM483 546h4v1h-4zM602 546h1v1h-1zM604 546h1v1h-1zM461 547h1v1h-1zM464 547h2v1h-2zM487 547h2v1h-2zM491 547h3v1h-3zM489 548h3v1h-3zM494 548h2v1h-2zM587 548h1v1h-1zM604 548h1v1h-1zM465 549h1v1h-1zM488 549h2v1h-2zM496 549h2v1h-2zM587 549h1v1h-1zM604 549h1v1h-1zM462 550h1v1h-1zM465 550h1v1h-1zM486 550h2v1h-2zM497 550h2v1h-2zM588 550h1v1h-1zM462 551h2v1h-2zM486 551h1v1h-1zM498 551h3v1h-3zM589 551h1v1h-1zM604 551h1v1h-1zM463 552h1v1h-1zM465 552h1v1h-1zM485 552h1v1h-1zM501 552h2v1h-2zM536 552h1v1h-1zM590 552h2v1h-2zM604 552h1v1h-1zM465 553h1v1h-1zM467 553h2v1h-2zM484 553h1v1h-1zM503 553h2v1h-2zM591 553h1v1h-1zM468 554h2v1h-2zM482 554h2v1h-2zM505 554h2v1h-2zM592 554h1v1h-1zM600 554h1v1h-1zM471 555h1v1h-1zM482 555h1v1h-1zM507 555h2v1h-2zM534 555h1v1h-1zM592 555h1v1h-1zM597 555h3v1h-3zM471 556h1v1h-1zM478 556h4v1h-4zM509 556h2v1h-2zM532 556h3v1h-3zM593 556h1v1h-1zM595 556h3v1h-3zM604 556h3v1h-3zM608 556h1v1h-1zM472 557h1v1h-1zM477 557h2v1h-2zM511 557h2v1h-2zM532 557h1v1h-1zM593 557h1v1h-1zM608 557h1v1h-1zM512 558h1v1h-1zM529 558h3v1h-3zM514 559h1v1h-1zM529 559h1v1h-1zM512 560h1v1h-1zM514 560h1v1h-1zM516 560h1v1h-1zM527 560h2v1h-2zM593 560h1v1h-1zM608 560h1v1h-1zM475 561h1v1h-1zM508 561h5v1h-5zM516 561h3v1h-3zM525 561h2v1h-2zM593 561h1v1h-1zM608 561h1v1h-1zM475 562h1v1h-1zM503 562h5v1h-5zM518 562h2v1h-2zM522 562h3v1h-3zM594 562h1v1h-1zM498 563h5v1h-5zM594 563h1v1h-1zM596 563h1v1h-1zM599 563h1v1h-1zM496 564h3v1h-3zM597 564h1v1h-1zM599 564h1v1h-1zM488 565h9v1h-9zM601 565h1v1h-1zM486 566h3v1h-3zM594 566h1v1h-1zM601 566h1v1h-1zM485 567h2v1h-2zM519 567h1v1h-1zM599 567h1v1h-1zM477 568h1v1h-1zM482 568h3v1h-3zM518 568h2v1h-2zM599 568h1v1h-1zM477 569h1v1h-1zM479 569h4v1h-4zM517 569h2v1h-2zM479 570h1v1h-1zM516 570h2v1h-2zM551 570h2v1h-2zM513 571h3v1h-3zM552 571h2v1h-2zM513 572h1v1h-1zM554 572h1v1h-1zM555 573h1v1h-1zM556 574h1v1h-1zM511 575h1v1h-1zM557 575h1v1h-1zM511 576h1v1h-1zM558 576h1v1h-1zM597 576h1v1h-1zM510 577h1v1h-1zM559 577h1v1h-1zM591 577h2v1h-2zM509 578h1v1h-1zM560 578h1v1h-1zM589 578h3v1h-3zM509 579h1v1h-1zM561 579h1v1h-1zM587 579h2v1h-2zM592 579h1v1h-1zM477 580h2v1h-2zM508 580h1v1h-1zM510 580h1v1h-1zM562 580h1v1h-1zM566 580h1v1h-1zM586 580h2v1h-2zM475 581h1v1h-1zM478 581h1v1h-1zM508 581h3v1h-3zM564 581h1v1h-1zM566 581h2v1h-2zM584 581h2v1h-2zM592 581h1v1h-1zM507 582h1v1h-1zM562 582h1v1h-1zM564 582h1v1h-1zM567 582h1v1h-1zM583 582h1v1h-1zM506 583h2v1h-2zM561 583h2v1h-2zM591 583h4v1h-4zM480 584h1v1h-1zM505 584h2v1h-2zM559 584h3v1h-3zM569 584h1v1h-1zM589 584h2v1h-2zM480 585h2v1h-2zM504 585h2v1h-2zM557 585h3v1h-3zM569 585h1v1h-1zM586 585h3v1h-3zM477 586h2v1h-2zM482 586h4v1h-4zM504 586h1v1h-1zM557 586h1v1h-1zM570 586h1v1h-1zM584 586h2v1h-2zM593 586h1v1h-1zM485 587h3v1h-3zM552 587h1v1h-1zM570 587h1v1h-1zM572 587h9v1h-9zM582 587h2v1h-2zM588 587h5v1h-5zM488 588h2v1h-2zM495 588h2v1h-2zM551 588h4v1h-4zM579 588h2v1h-2zM583 588h5v1h-5zM490 589h8v1h-8zM550 589h2v1h-2zM554 589h1v1h-1zM585 589h2v1h-2zM492 590h1v1h-1zM497 590h1v1h-1zM548 590h1v1h-1zM550 590h1v1h-1zM498 591h4v1h-4zM548 591h1v1h-1zM501 592h2v1h-2zM556 592h1v1h-1zM558 592h1v1h-1zM589 592h1v1h-1zM594 592h1v1h-1zM504 593h2v1h-2zM546 593h1v1h-1zM554 593h1v1h-1zM558 593h2v1h-2zM594 593h1v1h-1zM506 594h1v1h-1zM546 594h1v1h-1zM554 594h1v1h-1zM559 594h1v1h-1zM591 594h1v1h-1zM474 595h6v1h-6zM505 595h1v1h-1zM507 595h1v1h-1zM545 595h1v1h-1zM553 595h1v1h-1zM560 595h1v1h-1zM480 596h2v1h-2zM506 596h2v1h-2zM545 596h1v1h-1zM553 596h1v1h-1zM560 596h1v1h-1zM482 597h2v1h-2zM552 597h1v1h-1zM484 598h4v1h-4zM552 598h1v1h-1zM573 598h1v1h-1zM593 598h1v1h-1zM487 599h3v1h-3zM573 599h1v1h-1zM575 599h1v1h-1zM593 599h1v1h-1zM489 600h2v1h-2zM552 600h1v1h-1zM576 600h1v1h-1zM475 601h1v1h-1zM491 601h2v1h-2zM552 601h1v1h-1zM575 601h5v1h-5zM493 602h3v1h-3zM578 602h4v1h-4zM589 602h1v1h-1zM495 603h2v1h-2zM581 603h3v1h-3zM497 604h2v1h-2zM508 604h1v1h-1zM583 604h3v1h-3zM481 605h4v1h-4zM499 605h3v1h-3zM508 605h1v1h-1zM585 605h3v1h-3zM589 605h1v1h-1zM479 606h2v1h-2zM485 606h3v1h-3zM501 606h2v1h-2zM563 606h1v1h-1zM574 606h1v1h-1zM487 607h2v1h-2zM503 607h3v1h-3zM563 607h1v1h-1zM572 607h1v1h-1zM576 607h1v1h-1zM489 608h1v1h-1zM504 608h2v1h-2zM543 608h1v1h-1zM587 608h1v1h-1zM490 609h3v1h-3zM501 609h3v1h-3zM541 609h1v1h-1zM543 609h1v1h-1zM549 609h1v1h-1zM563 609h1v1h-1zM579 609h1v1h-1zM586 609h1v1h-1zM590 609h2v1h-2zM492 610h1v1h-1zM499 610h3v1h-3zM541 610h1v1h-1zM544 610h1v1h-1zM549 610h1v1h-1zM563 610h1v1h-1zM580 610h1v1h-1zM582 610h1v1h-1zM585 610h1v1h-1zM590 610h2v1h-2zM495 611h1v1h-1zM497 611h3v1h-3zM507 611h5v1h-5zM515 611h6v1h-6zM544 611h1v1h-1zM585 611h1v1h-1zM588 611h1v1h-1zM485 612h8v1h-8zM495 612h2v1h-2zM507 612h1v1h-1zM511 612h4v1h-4zM521 612h6v1h-6zM560 612h1v1h-1zM586 612h3v1h-3zM481 613h4v1h-4zM527 613h5v1h-5zM546 613h4v1h-4zM560 613h1v1h-1zM586 613h1v1h-1zM480 614h2v1h-2zM530 614h1v1h-1zM532 614h2v1h-2zM554 614h3v1h-3zM559 614h1v1h-1zM585 614h1v1h-1zM479 615h1v1h-1zM490 615h2v1h-2zM534 615h3v1h-3zM543 615h2v1h-2zM556 615h2v1h-2zM559 615h1v1h-1zM564 615h1v1h-1zM568 615h2v1h-2zM585 615h1v1h-1zM488 616h3v1h-3zM537 616h2v1h-2zM542 616h2v1h-2zM558 616h1v1h-1zM567 616h1v1h-1zM578 616h1v1h-1zM581 616h1v1h-1zM486 617h3v1h-3zM532 617h2v1h-2zM539 617h2v1h-2zM559 617h1v1h-1zM574 617h1v1h-1zM577 617h1v1h-1zM581 617h1v1h-1zM479 618h1v1h-1zM486 618h1v1h-1zM490 618h1v1h-1zM533 618h3v1h-3zM560 618h1v1h-1zM577 618h2v1h-2zM479 619h1v1h-1zM484 619h2v1h-2zM489 619h1v1h-1zM535 619h1v1h-1zM540 619h1v1h-1zM480 620h1v1h-1zM482 620h2v1h-2zM488 620h1v1h-1zM540 620h1v1h-1zM480 621h1v1h-1zM487 621h1v1h-1zM539 621h1v1h-1zM486 622h1v1h-1zM527 625h2v1h-2zM483 626h1v1h-1zM524 626h2v1h-2zM529 626h1v1h-1zM487 627h1v1h-1zM522 627h2v1h-2zM531 627h2v1h-2zM536 627h1v1h-1zM486 628h2v1h-2zM521 628h1v1h-1zM532 628h1v1h-1zM536 628h1v1h-1zM485 629h1v1h-1zM521 629h1v1h-1zM486 630h2v1h-2zM510 630h1v1h-1zM515 630h5v1h-5zM536 630h1v1h-1zM489 631h1v1h-1zM492 631h4v1h-4zM511 631h1v1h-1zM513 631h3v1h-3zM519 631h1v1h-1zM496 632h1v1h-1zM536 632h1v1h-1zM496 633h1v1h-1zM493 634h2v1h-2zM522 634h1v1h-1zM495 635h1v1h-1zM498 635h1v1h-1zM523 635h2v1h-2zM529 635h1v1h-1zM496 636h1v1h-1zM524 636h1v1h-1zM498 637h1v1h-1zM525 637h1v1h-1zM529 637h1v1h-1zM535 637h1v1h-1zM499 638h2v1h-2zM533 638h3v1h-3zM501 639h2v1h-2zM533 639h1v1h-1zM503 640h1v1h-1zM510 640h3v1h-3zM515 640h5v1h-5zM529 640h1v1h-1zM507 641h4v1h-4zM520 641h3v1h-3zM524 641h1v1h-1zM527 641h3v1h-3zM506 642h2v1h-2zM527 642h1v1h-1zM515 643h1v1h-1zM521 643h1v1h-1zM515 644h1v1h-1zM488 645h1v1h-1zM490 645h1v1h-1zM516 645h1v1h-1zM521 645h1v1h-1zM523 645h1v1h-1zM488 646h1v1h-1zM521 646h1v1h-1zM486 649h1v1h-1zM486 650h1v1h-1zM488 650h2v1h-2zM494 650h1v1h-1zM480 651h1v1h-1zM485 651h1v1h-1zM490 651h3v1h-3zM494 651h2v1h-2zM498 651h1v1h-1zM485 652h1v1h-1zM495 652h2v1h-2zM506 652h1v1h-1zM484 653h1v1h-1zM507 653h1v1h-1zM482 654h2v1h-2zM506 654h2v1h-2zM485 655h1v1h-1zM512 655h2v1h-2zM519 655h1v1h-1zM486 656h3v1h-3zM500 656h1v1h-1zM507 656h1v1h-1zM510 656h2v1h-2zM521 656h1v1h-1zM481 657h3v1h-3zM488 657h1v1h-1zM500 657h1v1h-1zM513 657h1v1h-1zM518 657h2v1h-2zM483 658h2v1h-2zM485 659h2v1h-2zM486 660h4v1h-4zM493 660h1v1h-1zM504 660h1v1h-1zM506 660h1v1h-1zM491 661h7v1h-7z" fill="#000" shape-rendering="crispEdges"/>
</g>
<rect x="272" y="71" width="455" height="659" fill="none" stroke="#000" stroke-width="2" shape-rendering="crispEdges"/>
<path d="M298.5 731v4M348.5 731v4M399.5 731v4M450.5 731v4M501.5 731v4M552.5 731v4M603.5 731v4M654.5 731v4M705.5 731v4M271 103.5h-3M271 166.5h-3M271 229.5h-3M271 292.5h-3M271 356.5h-3M271 419.5h-3M271 482.5h-3M271 545.5h-3M271 608.5h-3M271 672.5h-3" fill="none" stroke="#000" stroke-width="1" shape-rendering="crispEdges"/>
<text class="lon" x="275.38" y="748.2" textLength="46.07" lengthAdjust="spacingAndGlyphs">61.55W</text>
<text class="lon" x="330.25" y="748.2" textLength="36.57" lengthAdjust="spacingAndGlyphs">61.5W</text>
<text class="lon" x="376.38" y="748.2" textLength="46.07" lengthAdjust="spacingAndGlyphs">61.45W</text>
<text class="lon" x="432.25" y="748.2" textLength="36.57" lengthAdjust="spacingAndGlyphs">61.4W</text>
<text class="lon" x="478.38" y="748.2" textLength="46.07" lengthAdjust="spacingAndGlyphs">61.35W</text>
<text class="lon" x="534.25" y="748.2" textLength="36.57" lengthAdjust="spacingAndGlyphs">61.3W</text>
<text class="lon" x="580.38" y="748.2" textLength="46.07" lengthAdjust="spacingAndGlyphs">61.25W</text>
<text class="lon" x="636.25" y="748.2" textLength="36.57" lengthAdjust="spacingAndGlyphs">61.2W</text>
<text class="lon" x="682.38" y="748.2" textLength="46.07" lengthAdjust="spacingAndGlyphs">61.15W</text>
<text class="lat" x="221.0" y="108.6" textLength="43.91" lengthAdjust="spacingAndGlyphs">15.65N</text>
<text class="lat" x="228.0" y="171.6" textLength="36.68" lengthAdjust="spacingAndGlyphs">15.6N</text>
<text class="lat" x="221.0" y="234.6" textLength="43.91" lengthAdjust="spacingAndGlyphs">15.55N</text>
<text class="lat" x="228.0" y="297.6" textLength="36.68" lengthAdjust="spacingAndGlyphs">15.5N</text>
<text class="lat" x="221.0" y="361.6" textLength="43.91" lengthAdjust="spacingAndGlyphs">15.45N</text>
<text class="lat" x="228.0" y="424.6" textLength="36.68" lengthAdjust="spacingAndGlyphs">15.4N</text>
<text class="lat" x="221.0" y="487.6" textLength="43.91" lengthAdjust="spacingAndGlyphs">15.35N</text>
<text class="lat" x="228.0" y="550.6" textLength="36.68" lengthAdjust="spacingAndGlyphs">15.3N</text>
<text class="lat" x="221.0" y="613.6" textLength="43.91" lengthAdjust="spacingAndGlyphs">15.25N</text>
<text class="lat" x="228.0" y="677.6" textLength="36.68" lengthAdjust="spacingAndGlyphs">15.2N</text>
<rect x="854.5" y="635.81" width="18.0" height="42.69" fill="#aaaaaa" stroke="#000" stroke-width="1"/>
<rect x="854.5" y="593.12" width="18.0" height="42.69" fill="#a000c8" stroke="#000" stroke-width="1"/>
<rect x="854.5" y="550.42" width="18.0" height="42.69" fill="#6e00dc" stroke="#000" stroke-width="1"/>
<rect x="854.5" y="507.73" width="18.0" height="42.69" fill="#1e3cff" stroke="#000" stroke-width="1"/>
<rect x="854.5" y="465.04" width="18.0" height="42.69" fill="#00a0ff" stroke="#000" stroke-width="1"/>
<rect x="854.5" y="422.35" width="18.0" height="42.69" fill="#00c8c8" stroke="#000" stroke-width="1"/>
<rect x="854.5" y="379.65" width="18.0" height="42.69" fill="#00d28c" stroke="#000" stroke-width="1"/>
<rect x="854.5" y="336.96" width="18.0" height="42.69" fill="#00dc00" stroke="#000" stroke-width="1"/>
<rect x="854.5" y="294.27" width="18.0" height="42.69" fill="#a0e632" stroke="#000" stroke-width="1"/>
<rect x="854.5" y="251.58" width="18.0" height="42.69" fill="#e6dc32" stroke="#000" stroke-width="1"/>
<rect x="854.5" y="208.88" width="18.0" height="42.69" fill="#e6af2d" stroke="#000" stroke-width="1"/>
<rect x="854.5" y="166.19" width="18.0" height="42.69" fill="#f08228" stroke="#000" stroke-width="1"/>
<rect x="854.5" y="123.50" width="18.0" height="42.69" fill="#fa3c3c" stroke="#000" stroke-width="1"/>
<path d="M854.5 123.5L863.5 80.5L872.5 123.5Z" fill="#f00082" stroke="#000" stroke-width="1.25" stroke-linejoin="miter"/>
<path d="M854.5 678.5L863.5 720L872.5 678.5Z" fill="#fff" stroke="#000" stroke-width="1.25" stroke-linejoin="miter"/>
<text class="cb" x="878.75" y="684.9" textLength="8.13" lengthAdjust="spacingAndGlyphs">1</text>
<text class="cb" x="877.25" y="642.2" textLength="12.26" lengthAdjust="spacingAndGlyphs">5</text>
<text class="cb" x="877.25" y="599.5" textLength="21.39" lengthAdjust="spacingAndGlyphs">10</text>
<text class="cb" x="877.25" y="556.8" textLength="21.73" lengthAdjust="spacingAndGlyphs">15</text>
<text class="cb" x="878.0" y="514.1" textLength="20.44" lengthAdjust="spacingAndGlyphs">20</text>
<text class="cb" x="878.0" y="471.4" textLength="20.75" lengthAdjust="spacingAndGlyphs">25</text>
<text class="cb" x="878.0" y="428.7" textLength="20.47" lengthAdjust="spacingAndGlyphs">30</text>
<text class="cb" x="877.5" y="386.1" textLength="21.06" lengthAdjust="spacingAndGlyphs">50</text>
<text class="cb" x="877.5" y="343.4" textLength="21.06" lengthAdjust="spacingAndGlyphs">80</text>
<text class="cb" x="877.25" y="300.7" textLength="33.52" lengthAdjust="spacingAndGlyphs">110</text>
<text class="cb" x="877.25" y="258.0" textLength="33.52" lengthAdjust="spacingAndGlyphs">140</text>
<text class="cb" x="877.25" y="215.3" textLength="33.52" lengthAdjust="spacingAndGlyphs">180</text>
<text class="cb" x="878.0" y="172.6" textLength="32.64" lengthAdjust="spacingAndGlyphs">220</text>
<text class="cb" x="878.0" y="129.9" textLength="32.64" lengthAdjust="spacingAndGlyphs">250</text>
<text class="t1" y="27.7"><tspan x="171.25" textLength="124.62" lengthAdjust="spacingAndGlyphs">Caribbean</tspan> <tspan x="307.5" textLength="101.41" lengthAdjust="spacingAndGlyphs">Institute</tspan> <tspan x="424.25" textLength="31.51" lengthAdjust="spacingAndGlyphs">for</tspan> <tspan x="471.0" textLength="147.38" lengthAdjust="spacingAndGlyphs">Meteorology</tspan> <tspan x="634.5" textLength="44.83" lengthAdjust="spacingAndGlyphs">and</tspan> <tspan x="693.5" textLength="119.85" lengthAdjust="spacingAndGlyphs">Hydrology</tspan></text>
<text class="t2" y="55.0"><tspan x="70.5" textLength="158.32" lengthAdjust="spacingAndGlyphs">Aggregated</tspan> <tspan x="244.75" textLength="255.36" lengthAdjust="spacingAndGlyphs">precipitation(mm)</tspan> <tspan x="516.25" textLength="61.42" lengthAdjust="spacingAndGlyphs">DOM</tspan> <tspan x="593.5" textLength="66.66" lengthAdjust="spacingAndGlyphs">Valid</tspan> <tspan x="680.0" textLength="48.21" lengthAdjust="spacingAndGlyphs">15Z</tspan> <tspan x="746.5" textLength="93.85" lengthAdjust="spacingAndGlyphs">07/05</tspan> <tspan x="856.0" textLength="71.91" lengthAdjust="spacingAndGlyphs">2024</tspan></text>
</svg></body></html>
